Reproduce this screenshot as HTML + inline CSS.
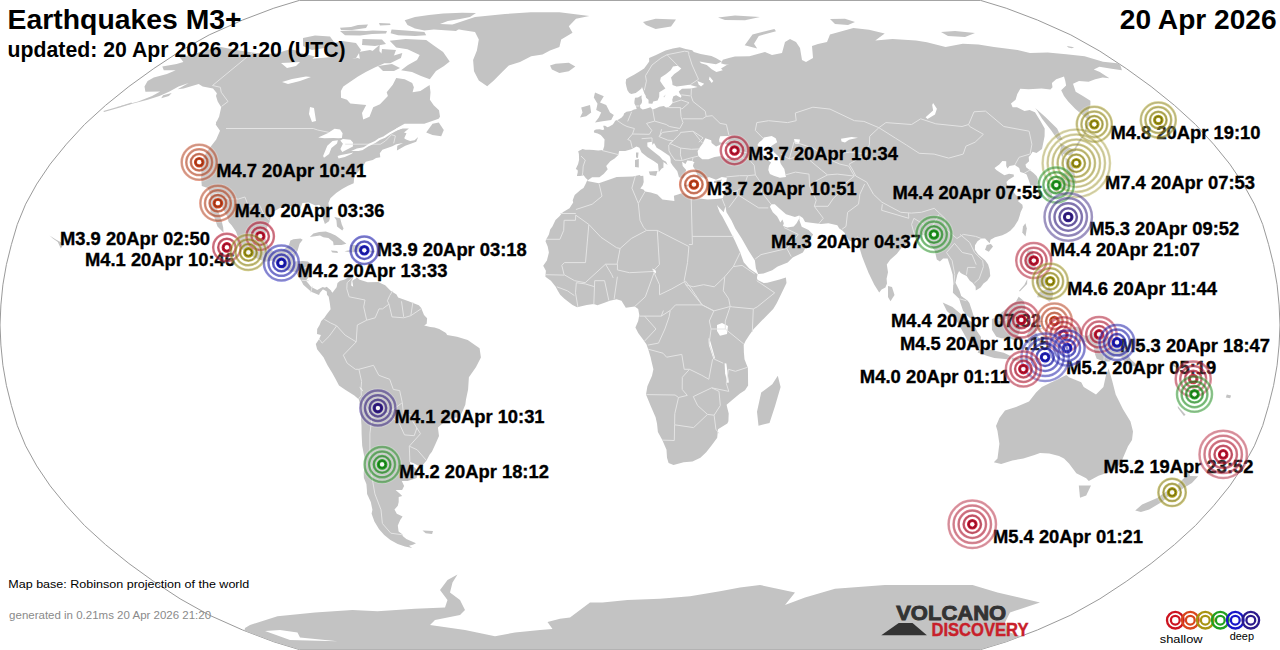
<!DOCTYPE html>
<html><head><meta charset="utf-8"><style>
html,body{margin:0;padding:0;background:#fff;width:1280px;height:650px;overflow:hidden}
svg{display:block}
.t{font-family:"Liberation Sans",sans-serif;font-weight:bold;fill:#000}
</style></head><body>
<svg width="1280" height="650" viewBox="0 0 1280 650">
<path d="M980.6,649.6 1006.2,641.8 1037.6,629.9 1070.8,615.1 1099.9,598.8 1126.2,581.5 1151.1,563.5 1174.4,544.7 1195.5,525.5 1213.6,505.8 1229.8,485.9 1243.3,465.9 1254.4,445.8 1262.7,425.6 1268.6,405.5 1273.6,385.4 1277.1,365.3 1279.1,345.1 1280.0,325.0 1279.1,304.9 1277.1,284.7 1273.6,264.6 1268.6,244.5 1262.7,224.4 1254.4,204.2 1243.3,184.1 1229.8,164.1 1213.6,144.2 1195.5,124.5 1174.4,105.3 1151.1,86.5 1126.2,68.5 1099.9,51.2 1070.8,34.9 1037.6,20.1 1006.2,8.2 980.6,0.4 299.4,0.4 273.8,8.2 242.4,20.1 209.2,34.9 180.1,51.2 153.8,68.5 128.9,86.5 105.6,105.3 84.5,124.5 66.4,144.2 50.2,164.1 36.7,184.1 25.6,204.2 17.3,224.4 11.4,244.5 6.4,264.6 2.9,284.7 0.9,304.9 0.0,325.0 0.9,345.1 2.9,365.3 6.4,385.4 11.4,405.5 17.3,425.6 25.6,445.8 36.7,465.9 50.2,485.9 66.4,505.8 84.5,525.5 105.6,544.7 128.9,563.5 153.8,581.5 180.1,598.8 209.2,615.1 242.4,629.9 273.8,641.8 299.4,649.6Z" fill="none" stroke="#9a9a9a" stroke-width="1"/>
<defs><clipPath id="oc"><path d="M980.6,649.6 1006.2,641.8 1037.6,629.9 1070.8,615.1 1099.9,598.8 1126.2,581.5 1151.1,563.5 1174.4,544.7 1195.5,525.5 1213.6,505.8 1229.8,485.9 1243.3,465.9 1254.4,445.8 1262.7,425.6 1268.6,405.5 1273.6,385.4 1277.1,365.3 1279.1,345.1 1280.0,325.0 1279.1,304.9 1277.1,284.7 1273.6,264.6 1268.6,244.5 1262.7,224.4 1254.4,204.2 1243.3,184.1 1229.8,164.1 1213.6,144.2 1195.5,124.5 1174.4,105.3 1151.1,86.5 1126.2,68.5 1099.9,51.2 1070.8,34.9 1037.6,20.1 1006.2,8.2 980.6,0.4 299.4,0.4 273.8,8.2 242.4,20.1 209.2,34.9 180.1,51.2 153.8,68.5 128.9,86.5 105.6,105.3 84.5,124.5 66.4,144.2 50.2,164.1 36.7,184.1 25.6,204.2 17.3,224.4 11.4,244.5 6.4,264.6 2.9,284.7 0.9,304.9 0.0,325.0 0.9,345.1 2.9,365.3 6.4,385.4 11.4,405.5 17.3,425.6 25.6,445.8 36.7,465.9 50.2,485.9 66.4,505.8 84.5,525.5 105.6,544.7 128.9,563.5 153.8,581.5 180.1,598.8 209.2,615.1 242.4,629.9 273.8,641.8 299.4,649.6Z"/></clipPath></defs>
<g fill="#c3c3c3" stroke="none" clip-path="url(#oc)"><path d="M323.0,289.2 320.0,292.8 319.0,295.0 311.2,291.7 303.3,284.8 301.3,280.7 297.6,275.5 295.8,271.9 290.9,271.5 282.3,268.6 277.4,264.6 272.7,260.6 269.9,261.0 265.5,261.8 254.2,257.4 245.9,252.5 240.3,248.1 236.2,242.9 238.5,238.5 235.9,231.6 231.6,225.2 228.6,222.0 227.1,216.3 225.0,212.7 221.6,206.3 220.0,200.2 216.8,197.0 215.0,204.2 218.6,212.3 221.5,220.3 223.2,227.6 223.6,232.8 217.5,226.4 214.3,217.5 210.4,213.1 210.5,204.7 210.5,196.6 210.0,193.4 207.7,188.1 201.8,186.1 201.1,177.7 201.5,172.9 200.6,162.5 206.6,152.1 216.2,139.5 220.0,130.8 215.7,124.5 216.7,121.4 219.1,116.8 221.2,107.2 217.7,101.5 216.0,95.9 216.9,93.3 213.0,88.4 202.7,86.5 198.7,84.0 183.6,88.4 177.6,89.2 188.7,82.9 178.6,86.5 169.0,91.8 159.4,95.9 147.7,99.7 133.1,103.4 122.6,106.0 115.0,107.6 127.7,104.2 138.2,101.5 152.1,95.9 160.2,91.4 145.4,91.8 144.5,86.5 147.6,81.1 153.8,77.5 166.9,73.9 175.7,70.3 163.8,70.3 162.3,66.4 176.6,64.0 183.4,61.9 179.5,57.1 191.6,54.7 208.4,49.6 220.8,47.0 237.8,50.2 252.4,52.6 266.1,54.0 277.7,52.9 290.1,49.2 296.7,50.5 300.8,52.9 315.1,56.4 312.3,58.8 332.6,57.1 343.0,59.8 357.7,58.1 362.7,59.8 370.2,52.9 379.7,44.7 379.4,51.2 382.9,54.7 390.5,56.4 402.3,52.9 400.9,58.1 390.2,63.3 384.4,63.3 374.8,67.4 365.8,72.1 358.0,76.4 343.3,86.5 340.9,91.0 341.0,97.8 347.0,99.7 350.3,103.4 366.2,104.9 362.0,113.0 363.2,119.5 369.5,116.8 373.2,107.2 380.0,104.2 387.9,95.9 386.7,92.2 392.8,84.7 396.2,77.9 404.7,79.3 412.2,82.9 413.9,87.3 412.6,92.2 420.4,91.0 429.6,85.1 430.5,92.2 429.9,99.7 433.7,105.3 439.0,110.3 440.0,116.8 438.6,118.8 424.3,123.8 404.6,123.8 397.4,127.7 391.5,132.4 385.8,136.3 384.2,137.1 393.4,131.6 402.4,128.5 408.9,128.5 404.0,132.4 406.5,133.2 404.2,138.3 406.0,139.5 410.1,141.0 414.6,140.2 418.2,137.1 416.2,141.8 405.3,145.8 396.9,150.5 397.3,145.8 403.1,143.0 396.2,144.2 392.3,146.2 382.4,149.7 379.8,153.3 380.3,157.3 376.1,158.1 372.8,160.1 365.7,161.7 363.1,166.1 360.4,168.5 359.0,170.9 354.3,176.1 353.7,183.3 348.0,185.7 342.1,189.0 336.2,193.0 330.4,198.2 328.4,203.0 329.5,210.3 329.9,218.3 329.0,221.2 324.9,224.0 323.6,220.3 321.4,213.1 321.8,207.9 319.1,204.7 315.5,205.5 308.7,202.6 302.4,203.0 300.5,208.3 291.4,206.3 285.5,205.1 281.6,207.1 271.2,213.1 270.0,220.8 266.7,228.4 265.1,235.6 266.0,240.5 269.0,247.7 274.3,252.1 283.0,250.1 288.9,245.3 290.4,240.5 293.4,239.3 300.5,238.5 302.7,239.7 299.6,243.7 297.6,250.5 295.7,254.6 293.7,261.4 302.6,261.0 307.8,261.4 311.9,264.6 310.2,272.7 309.1,276.7 305.9,280.6 308.8,283.9 311.2,287.1 317.2,290.0 322.7,287.1 327.3,288.5 331.8,290.8Z"/><path d="M323.0,288.8 326.7,286.8 330.4,290.0 332.4,292.8 336.6,287.2 337.5,283.1 340.2,280.7 344.9,279.5 351.6,275.1 352.7,278.7 351.5,281.1 351.2,285.6 353.2,286.8 352.2,280.7 356.3,278.3 356.7,277.1 359.0,279.5 367.7,282.3 378.3,281.9 382.4,283.9 385.2,285.2 390.3,290.4 396.5,294.4 398.1,297.6 408.6,301.3 418.8,305.3 421.2,308.1 424.0,314.9 427.1,318.2 426.7,323.8 424.2,325.4 430.3,327.0 434.5,327.4 439.2,329.0 446.0,333.1 447.1,335.1 457.0,336.7 467.7,339.9 474.9,345.1 479.6,348.3 480.9,357.6 475.9,367.3 468.9,377.3 468.1,389.4 466.0,399.5 465.3,404.7 462.4,411.5 459.4,417.6 455.3,417.6 449.2,419.6 444.9,421.6 437.9,427.6 439.0,436.1 435.6,443.7 431.9,451.8 429.7,454.6 426.5,460.6 422.4,465.5 418.0,465.5 413.2,463.1 409.9,461.9 410.4,464.3 415.3,467.9 417.4,471.1 416.8,477.9 407.7,481.1 401.8,481.1 404.1,485.9 402.1,489.9 395.6,489.9 400.2,493.9 402.2,495.9 398.7,497.1 398.7,501.9 397.8,505.8 394.5,509.4 396.8,513.7 402.6,516.4 400.2,520.0 397.8,525.5 398.6,531.6 402.3,534.3 402.7,535.9 406.3,538.9 416.0,543.2 412.9,544.7 409.0,545.8 412.3,548.1 405.0,546.6 397.7,544.0 390.4,540.1 384.2,535.1 379.1,529.3 374.4,521.5 371.6,513.7 372.4,509.8 370.8,501.9 367.1,493.9 366.9,489.9 366.4,483.9 363.9,477.9 363.7,473.1 364.5,465.9 364.5,457.8 362.2,445.8 361.6,433.7 361.5,425.6 361.1,420.0 360.8,409.5 358.9,399.5 354.3,395.4 344.8,389.4 339.0,385.4 335.7,379.3 332.4,373.3 327.5,365.3 323.5,357.2 317.1,349.2 315.8,343.9 319.2,339.1 320.9,335.1 317.0,333.9 317.2,329.0 319.6,325.0 321.2,321.0 324.4,317.8 326.6,314.5 330.6,309.3 329.8,302.9 328.7,296.8 327.0,294.8 326.8,291.6 323.0,289.2Z"/><path d="M586.9,180.9 585.7,183.7 583.5,188.1 580.7,189.8 574.7,195.0 572.7,200.2 573.2,202.6 569.5,208.3 562.8,212.3 559.5,216.3 555.5,219.9 552.4,226.4 550.2,229.6 548.9,234.4 546.3,239.3 545.5,241.3 547.7,246.5 548.9,252.5 546.9,260.6 543.2,265.8 545.9,270.7 545.4,276.7 550.9,280.7 555.7,286.8 557.8,290.8 560.2,294.8 564.4,298.8 572.5,304.9 577.1,307.3 586.7,304.9 593.8,304.1 597.4,305.3 603.8,302.9 609.8,300.8 616.6,299.2 621.5,300.8 625.8,307.7 631.1,306.9 634.7,306.5 638.2,308.9 639.3,314.9 638.2,321.0 635.4,327.4 638.2,333.1 643.6,340.3 646.4,344.3 648.2,349.2 650.6,357.2 651.3,360.4 653.4,369.3 652.0,375.7 647.4,386.2 646.0,394.6 650.5,405.5 655.6,417.2 657.0,423.6 657.9,432.1 662.3,440.1 666.5,449.8 667.0,457.8 668.6,463.1 673.5,465.1 683.7,462.3 692.5,461.4 700.4,457.8 706.2,452.2 711.7,445.3 717.2,437.7 718.0,429.2 727.3,423.6 728.4,421.2 728.7,413.6 727.2,407.5 726.6,404.7 732.8,399.5 740.0,393.4 745.0,390.2 748.1,385.4 748.0,375.3 747.9,368.1 744.5,359.2 743.9,352.4 743.7,345.1 745.5,341.1 749.4,335.1 753.7,329.0 765.4,316.9 773.2,308.9 776.7,303.3 781.8,292.8 786.5,283.1 785.9,277.5 779.6,279.5 767.3,282.7 763.8,283.1 757.7,279.9 756.9,278.3 757.5,274.3 758.2,273.9 763.5,273.5 772.2,270.3 777.7,266.6 787.7,262.6 792.7,257.4 794.7,256.6 802.9,252.5 807.0,245.3 809.4,240.5 813.1,234.4 808.6,230.0 801.7,226.8 799.4,220.3 799.6,218.7 799.2,215.5 802.9,217.9 805.1,222.0 814.9,223.2 820.9,224.0 828.4,223.2 837.3,225.2 839.3,228.4 842.3,230.4 845.0,233.2 845.1,234.8 849.1,240.5 852.7,241.7 857.7,238.5 857.7,235.6 858.8,239.7 859.7,248.5 862.1,256.6 864.4,262.6 868.6,273.1 874.3,284.7 879.2,292.4 881.6,289.6 885.4,287.6 887.0,283.5 886.6,278.7 888.0,272.3 886.8,264.6 890.2,259.8 896.9,253.8 901.9,247.3 907.7,243.3 908.1,238.5 913.2,237.3 916.6,236.4 919.8,234.4 924.4,235.2 925.6,238.9 929.5,244.1 934.7,250.5 936.8,259.4 939.9,261.4 943.1,258.6 947.6,258.6 950.8,268.2 952.7,274.7 953.2,284.7 952.9,292.8 959.2,298.8 960.5,303.3 963.2,310.9 967.6,316.1 972.3,319.8 974.8,319.4 973.3,314.9 971.7,309.7 969.4,302.9 967.5,300.4 961.2,296.0 959.5,290.8 955.5,282.7 957.3,274.7 959.1,271.1 960.7,273.1 962.9,274.3 966.6,275.9 969.8,280.7 972.5,282.7 975.6,286.8 975.8,290.4 980.6,287.6 983.5,283.5 987.2,280.7 990.3,275.9 989.6,269.5 988.1,264.6 985.1,260.2 978.3,254.6 974.9,249.7 975.0,245.3 977.5,241.3 981.3,238.5 985.1,238.5 989.7,243.3 990.5,239.7 995.0,237.3 1002.3,235.2 1006.5,233.2 1010.3,230.8 1014.3,226.4 1018.2,220.3 1019.9,215.1 1020.6,212.3 1022.8,207.5 1022.4,204.7 1017.8,201.0 1020.0,199.4 1018.1,197.0 1015.1,194.2 1011.1,188.1 1007.1,185.3 1006.5,182.1 1008.6,179.7 1013.9,176.5 1013.7,174.5 1009.0,173.7 1004.4,175.3 1000.8,172.9 996.3,170.1 994.5,168.1 999.3,164.5 1002.4,160.9 1006.2,161.3 1006.2,166.1 1007.5,168.5 1009.5,166.1 1014.9,164.9 1019.2,168.1 1020.3,172.1 1024.4,173.3 1026.6,174.5 1028.7,180.1 1030.4,184.9 1034.6,186.1 1038.7,183.7 1039.3,182.1 1036.6,176.1 1033.5,172.9 1026.1,167.3 1025.5,164.5 1029.1,161.3 1028.7,156.9 1030.5,154.9 1032.6,151.7 1036.5,152.9 1042.0,148.9 1043.4,142.2 1044.6,136.3 1044.7,128.5 1040.3,120.7 1035.0,112.2 1029.6,109.9 1024.5,111.1 1017.0,107.2 1012.6,107.2 1011.0,103.4 1015.6,99.7 1017.3,94.0 1020.3,88.8 1028.6,89.2 1041.6,88.4 1050.4,89.5 1052.5,87.3 1051.9,82.9 1056.2,79.3 1064.0,76.4 1065.3,81.1 1066.1,85.5 1061.2,90.3 1064.0,95.9 1068.2,101.5 1075.4,109.1 1089.3,120.7 1090.4,116.8 1088.4,113.0 1088.8,109.1 1090.4,105.3 1090.4,100.8 1082.9,95.9 1075.7,91.8 1073.0,83.7 1079.0,81.1 1088.6,81.8 1095.2,79.3 1102.6,77.5 1109.4,78.2 1099.8,72.1 1093.8,69.6 1099.4,66.7 1110.0,68.5 1121.9,70.3 1120.9,66.7 1120.1,65.0 1119.7,63.6 1103.0,61.7 1084.6,56.2 1066.2,54.3 1047.7,52.5 1030.0,53.1 1017.5,50.0 994.0,46.9 978.4,44.5 962.8,43.8 945.6,46.9 926.9,42.2 916.0,40.6 892.5,39.0 875.3,40.6 884.7,33.6 869.0,29.7 853.4,28.1 830.0,34.4 827.0,42.0 818.0,44.0 812.0,46.0 813.0,58.0 806.0,62.0 802.0,60.0 800.0,48.0 796.0,42.0 790.0,39.0 785.0,42.0 782.0,53.0 772.0,55.0 765.0,52.0 749.4,56.2 734.9,56.4 728.9,58.1 722.8,59.8 721.0,63.3 724.0,64.3 729.5,65.0 730.6,62.3 726.8,65.0 721.0,68.5 722.8,70.3 716.4,72.1 711.7,69.2 706.8,65.0 701.1,63.3 699.5,61.6 705.0,62.6 716.0,64.3 721.9,61.6 715.8,58.1 711.4,56.0 700.6,54.0 693.8,51.9 692.2,50.2 685.6,48.9 679.8,47.3 672.9,48.6 665.5,50.5 661.8,52.2 655.5,55.3 649.1,58.1 649.2,61.6 646.7,65.0 644.1,68.5 638.6,72.1 634.5,74.6 628.9,77.5 626.1,79.3 625.7,82.9 626.4,86.5 627.4,90.3 629.3,92.9 631.3,94.0 635.7,92.9 639.4,90.3 641.4,88.4 642.0,86.9 643.2,90.3 644.6,94.0 645.5,95.2 646.1,97.8 648.5,99.7 648.6,103.4 652.4,103.8 653.2,101.5 657.6,100.4 659.2,96.7 659.3,92.2 662.6,90.3 665.4,88.4 662.6,84.7 660.1,81.1 660.8,77.5 666.1,73.9 670.7,70.3 673.0,66.4 677.8,65.7 681.3,68.5 678.6,71.0 674.3,73.9 671.0,77.5 672.2,81.8 672.5,85.1 676.6,86.5 682.5,85.8 689.4,84.7 697.7,86.9 691.3,88.4 682.0,88.8 678.8,91.4 679.5,93.3 681.5,95.9 680.8,97.8 676.2,95.2 673.4,96.3 672.2,99.7 672.8,102.7 670.6,105.3 668.3,107.2 666.0,107.6 663.8,106.0 659.4,106.8 655.5,108.4 652.6,109.5 650.4,107.2 646.0,108.7 642.7,109.5 640.3,108.0 640.0,105.3 641.8,103.0 642.1,100.8 641.5,97.8 641.7,95.2 638.0,97.4 635.0,97.8 634.4,101.5 634.4,103.4 635.8,106.0 636.7,109.1 634.0,109.5 631.0,111.1 626.5,111.8 624.0,113.4 623.6,115.3 621.7,117.6 618.6,119.5 615.2,120.7 614.2,122.6 612.8,124.5 609.4,126.5 607.5,127.3 605.1,125.7 603.2,125.7 604.2,129.6 602.6,130.0 599.6,129.2 595.8,129.6 593.9,130.8 594.0,132.4 597.7,133.6 600.7,135.1 601.9,136.3 604.6,139.5 604.4,141.8 604.2,146.2 603.0,150.1 598.2,150.5 593.4,150.1 589.6,149.7 585.4,149.7 582.6,148.9 578.2,151.3 578.9,154.1 579.1,159.7 578.1,164.1 575.8,168.9 577.6,170.1 577.8,172.1 576.9,176.1 580.2,176.1 583.6,175.3 585.7,178.1 587.9,180.1Z"/><path d="M1036.3,392.2 1041.8,387.0 1056.6,379.7 1066.4,375.0 1069.0,377.2 1081.2,382.2 1083.7,387.0 1096.0,394.5 1103.4,387.0 1105.8,376.0 1108.6,368.5 1112.0,380.0 1115.7,394.5 1123.0,409.2 1130.5,421.5 1133.0,431.4 1132.0,440.0 1128.0,446.2 1120.6,463.4 1113.2,470.8 1098.5,475.7 1088.8,481.0 1086.2,478.2 1076.3,473.2 1069.0,463.4 1064.0,458.5 1059.0,456.0 1049.2,453.5 1040.0,453.1 1034.5,455.0 1023.4,458.6 1012.3,460.5 1001.2,464.1 993.8,462.3 997.5,458.6 999.4,443.8 997.5,431.0 996.0,426.0 999.4,418.0 1005.0,410.6 1016.0,407.0 1029.0,401.4Z"/><path d="M245.0,628.0 250.0,625.0 277.5,616.2 315.0,612.5 352.5,610.0 377.5,611.2 415.0,608.8 445.0,607.5 447.5,600.0 440.0,590.0 447.5,580.0 457.5,574.5 452.5,582.5 450.0,592.5 460.0,600.0 465.0,610.0 460.0,615.0 435.0,620.0 430.0,625.0 465.0,630.0 495.0,636.2 515.0,632.5 540.0,630.0 552.5,629.0 547.5,622.0 560.0,618.8 570.0,617.5 580.0,610.0 590.0,602.5 602.5,602.5 627.5,600.0 660.0,598.8 690.0,596.2 705.0,593.8 720.0,591.2 740.0,587.5 760.0,585.0 795.0,592.5 785.0,605.0 805.0,597.5 835.0,588.8 885.0,585.0 922.5,585.0 972.5,585.0 997.5,592.5 1040.0,602.5 1010.0,612.5 1005.0,622.5 1010.0,632.5 1060.0,650.0 240.0,650.0Z"/></g>
<g fill="#fff" stroke="none"><path d="M281.0,63.0 292.0,62.5 300.0,62.0 296.0,66.0 287.0,68.0Z"/><path d="M282.0,82.0 292.0,79.0 306.0,76.5 311.0,77.0 300.0,81.0 288.0,84.0Z"/><path d="M588.6,179.7 592.1,177.3 599.4,177.3 603.9,173.7 607.7,169.3 606.2,166.1 610.3,161.3 614.6,158.5 618.3,154.9 619.1,150.9 625.2,150.9 631.3,149.3 636.5,146.6 639.4,147.7 641.6,152.5 647.5,157.3 653.7,160.9 658.0,164.1 658.8,172.1 661.7,168.5 663.4,167.7 663.5,162.1 667.6,164.9 666.1,161.7 662.5,159.7 659.8,156.5 651.2,149.7 647.4,146.6 647.3,142.6 652.1,141.8 652.4,145.0 654.0,143.0 656.7,147.7 660.6,150.1 666.2,153.7 669.5,156.1 670.6,158.9 670.7,162.5 672.8,165.7 677.3,171.3 678.9,176.9 681.6,178.5 683.6,178.1 685.3,172.5 686.2,170.1 682.7,166.1 682.1,161.7 685.5,164.1 687.3,160.5 692.2,160.9 694.6,162.5 693.7,163.3 692.9,166.1 695.5,170.5 697.8,176.1 700.8,176.9 703.6,177.7 705.3,179.3 708.8,176.9 716.0,179.7 721.8,176.9 726.9,177.7 726.3,182.1 725.8,188.6 724.5,193.0 722.8,198.2 715.8,199.0 707.6,199.4 697.7,198.2 687.4,195.8 682.6,193.0 673.9,195.8 674.4,201.0 662.4,199.4 657.3,194.6 650.8,192.6 645.1,191.4 643.4,189.4 640.3,188.6 642.7,185.3 643.7,182.1 643.3,175.7 640.7,176.1 639.7,174.9 632.7,176.5 616.7,176.9 604.6,181.3 598.8,183.3 587.2,180.9Z"/><path d="M702.2,159.3 698.3,156.1 697.6,151.3 699.9,147.3 702.7,143.4 705.3,138.3 711.2,140.2 711.6,143.0 716.1,146.6 721.3,144.2 724.3,143.0 719.4,142.2 719.1,139.5 720.2,136.3 728.0,135.9 731.8,135.5 728.4,138.3 728.7,140.2 725.0,143.4 728.7,145.4 735.4,149.7 741.8,154.1 742.6,157.7 736.8,160.1 726.2,158.5 725.6,158.9 721.0,156.1 714.6,156.9 708.4,159.3 705.1,159.3Z"/><path d="M761.9,140.2 763.9,137.5 771.7,135.9 775.7,138.3 777.2,142.2 771.0,146.2 772.6,149.3 773.7,152.1 778.1,156.1 779.7,158.1 780.2,162.1 780.9,164.1 784.3,168.9 785.6,174.9 786.0,176.9 779.8,177.7 773.8,175.7 769.9,174.1 768.3,170.1 769.0,165.7 771.1,162.5 768.9,160.9 765.2,156.9 760.8,152.1 759.5,148.1 757.4,145.0 759.1,142.2Z"/><path d="M716.8,204.7 719.6,212.3 722.2,216.3 728.7,228.4 734.8,240.5 740.2,252.5 743.7,262.2 749.2,268.6 755.4,272.7 757.5,274.3 758.2,273.9 755.9,268.6 754.9,260.6 748.5,250.5 741.7,238.5 735.3,228.4 731.4,220.3 726.5,212.3 725.4,206.3 723.7,212.3 717.9,206.3Z"/><path d="M771.4,204.2 769.9,206.7 772.8,212.3 777.0,216.3 778.6,219.1 780.3,222.4 782.4,219.5 783.8,223.2 783.0,226.0 787.3,227.6 793.7,226.4 796.6,223.2 798.6,219.5 799.6,218.7 799.2,215.5 794.9,217.1 786.0,214.3 779.7,208.7 774.8,204.2Z"/><path d="M717.0,325.0 722.0,323.0 728.0,326.0 727.0,334.0 720.0,335.7 717.0,331.0Z"/><path d="M280.0,630.0 297.5,632.5 300.0,637.5 337.5,641.2 290.0,640.0 265.0,631.0Z"/><path d="M310.0,107.0 314.0,108.0 316.0,121.0 312.0,122.0 309.0,114.0Z"/><path d="M933.1,103.1 936.9,108.8 935.0,114.4 927.5,119.0 925.6,117.2 933.1,110.6 932.2,105.0Z"/><path d="M841.0,138.7 851.5,136.9 858.0,137.8 849.0,139.7 845.0,142.5 841.5,141.6Z"/><path d="M794.0,139.0 800.0,139.5 799.0,144.0 795.0,143.5Z"/><path d="M697.4,81.1 704.2,83.7 701.0,86.5 698.7,84.4Z"/><path d="M709.6,76.4 713.3,81.1 711.7,82.9 709.0,79.3Z"/><path d="M652.3,268.6 655.9,270.7 655.9,273.5 653.4,271.9Z"/><path d="M708.6,338.3 709.6,338.7 714.8,357.2 713.7,359.6 708.9,345.1Z"/><path d="M724.6,363.2 726.4,363.6 728.8,382.6 727.4,383.0 725.1,373.3Z"/><path d="M359.2,386.6 361.6,388.6 363.3,391.4 361.0,389.8Z"/><path d="M318.2,137.5 327.6,133.2 334.5,128.8 340.0,129.6 342.6,133.2 341.9,137.9 338.6,138.3 333.4,137.9 324.4,138.3Z"/><path d="M337.9,140.2 332.5,141.0 327.3,145.8 323.1,156.1 324.0,157.7 329.1,154.1 331.4,148.1 337.0,143.4Z"/><path d="M342.9,139.1 350.5,139.8 353.0,142.6 352.9,146.6 342.2,152.1 340.4,148.9 342.9,143.8 340.3,140.6Z"/><path d="M337.6,156.1 338.6,158.5 344.8,156.9 351.4,154.1 353.3,152.5 347.7,153.7 341.1,154.9Z"/><path d="M351.1,150.9 358.5,150.9 363.0,150.1 363.8,147.3 356.9,148.5Z"/></g>
<g fill="#c3c3c3" stroke="none" clip-path="url(#oc)"><path d="M452.5,24.4 475.0,16.9 505.0,14.0 531.0,12.2 559.4,12.2 589.4,15.9 576.0,18.8 568.8,26.2 572.5,32.8 561.2,39.4 559.4,46.9 550.0,50.6 542.5,54.4 531.2,56.2 520.0,61.9 508.8,65.6 501.2,73.1 493.8,80.6 487.2,86.2 478.8,80.6 474.0,71.2 473.1,60.0 476.9,50.6 478.8,39.4 475.0,31.9 461.9,30.0 452.5,28.1Z"/><path d="M550.0,65.6 555.6,63.8 568.8,62.8 575.3,66.6 568.8,71.2 559.4,73.1 551.9,69.4Z"/><path d="M426.2,132.5 432.5,123.8 438.8,122.5 443.8,130.0 441.2,136.2 432.5,135.0Z"/><path d="M595.0,92.5 603.8,96.2 600.0,102.5 606.2,105.0 610.0,112.5 613.8,115.0 611.2,120.0 602.5,121.2 595.0,122.5 598.8,117.5 601.2,112.5 596.2,110.0 597.5,103.8 593.8,97.5Z"/><path d="M581.2,107.5 590.0,105.0 591.2,112.5 586.2,116.2 580.0,117.5 582.5,112.5Z"/><path d="M643.0,21.9 655.6,18.8 676.0,19.5 671.0,26.6 655.6,28.9 646.0,25.0Z"/><path d="M744.7,45.3 752.5,34.4 774.4,28.9 776.0,31.2 758.8,36.0 754.0,43.8 757.2,48.4Z"/><path d="M718.0,17.5 735.0,15.6 760.0,17.0 745.0,20.3 725.0,20.0Z"/><path d="M830.0,19.0 845.0,18.8 855.0,22.0 848.0,25.0 835.0,24.0Z"/><path d="M941.0,32.0 955.0,31.0 975.0,33.0 965.0,37.0 948.0,36.0Z"/><path d="M888.0,286.0 892.0,287.0 894.5,295.0 890.5,301.3 888.0,297.0Z"/><path d="M777.8,375.8 780.6,387.0 775.0,406.3 769.5,423.0 758.5,425.7 757.0,411.8 761.2,392.5 772.3,384.2Z"/><path d="M648.8,171.5 657.5,171.0 656.0,176.0 650.0,175.0Z"/><path d="M635.0,160.0 638.8,159.0 638.8,167.5 635.0,167.0Z"/><path d="M636.0,152.5 638.5,152.5 638.0,158.0 636.0,157.5Z"/><path d="M684.0,185.0 695.0,184.0 694.0,186.5 685.0,186.5Z"/><path d="M714.0,181.0 722.0,179.5 720.0,183.0 714.0,183.0Z"/><path d="M1078.8,485.5 1091.0,485.5 1086.2,495.4 1080.0,497.8Z"/><path d="M1186.5,463.5 1188.7,471.9 1190.2,475.9 1198.2,476.3 1191.9,483.1 1177.2,491.9 1179.2,487.9 1178.0,483.9 1185.1,477.1Z"/><path d="M1171.7,487.9 1175.4,489.9 1168.7,495.9 1162.6,501.5 1149.2,509.4 1140.9,512.1 1135.2,510.5 1142.1,504.6 1157.2,497.9 1164.0,493.1Z"/><path d="M1065.4,158.1 1067.8,158.9 1071.5,162.9 1074.3,170.9 1075.1,178.1 1076.5,183.7 1070.3,185.7 1064.0,190.2 1055.0,186.9 1047.1,188.1 1049.0,185.3 1052.4,182.1 1058.9,181.7 1061.4,176.5 1061.9,174.1 1067.1,172.5 1066.0,164.9Z"/><path d="M1046.9,188.6 1051.9,192.2 1051.9,198.6 1049.0,199.8 1045.1,193.8 1043.1,190.2Z"/><path d="M1055.0,186.9 1059.5,188.1 1058.9,191.0 1055.3,193.0 1052.7,189.0Z"/><path d="M1059.0,142.2 1067.1,147.0 1076.6,150.5 1073.0,152.5 1071.7,156.1 1063.3,154.1 1062.5,158.1 1059.8,151.3 1061.1,146.6Z"/><path d="M1035.2,108.0 1045.1,116.8 1057.1,128.5 1062.7,140.2 1057.4,139.5 1051.3,130.4 1042.1,118.8 1037.4,111.1Z"/><path d="M1025.4,223.2 1026.8,228.4 1025.5,236.4 1022.3,232.4 1023.0,226.4Z"/><path d="M990.9,244.1 993.0,246.5 988.8,251.7 985.0,249.7 986.8,244.9Z"/><path d="M1027.5,250.5 1032.8,250.5 1034.9,259.8 1035.6,267.8 1042.5,269.5 1042.3,274.3 1037.7,270.3 1029.8,269.1 1027.3,265.4 1026.0,259.0 1027.1,254.6Z"/><path d="M1044.5,274.7 1048.2,279.9 1047.7,284.7 1042.9,286.4 1039.4,286.8 1035.9,283.1 1036.0,277.5 1040.0,275.5Z"/><path d="M1048.8,285.6 1053.2,292.8 1052.2,299.6 1049.2,301.7 1044.3,297.6 1037.2,297.2 1038.3,292.8 1043.1,290.4 1047.3,288.8Z"/><path d="M1027.3,279.1 1027.1,283.9 1019.8,291.6 1019.1,290.8 1024.4,284.7Z"/><path d="M1018.7,296.8 1023.6,300.8 1025.7,307.7 1023.7,314.9 1027.4,321.0 1020.3,329.0 1018.4,335.1 1016.5,341.5 1011.2,338.7 1001.3,338.3 996.3,336.7 991.9,329.8 991.9,319.0 997.1,316.9 999.9,313.7 1009.3,306.5 1016.1,301.3Z"/><path d="M942.7,302.5 952.5,306.9 960.5,313.7 966.3,319.0 973.5,323.0 976.9,331.0 981.0,337.1 979.9,348.7 975.8,347.1 967.8,340.7 961.3,329.0 955.6,319.0 946.9,310.9Z"/><path d="M979.9,349.2 988.8,349.6 1003.8,352.8 1010.7,356.0 1010.2,359.6 994.3,358.0 987.4,356.0 977.6,352.4Z"/><path d="M1011.7,357.6 1019.1,358.4 1028.0,358.0 1040.4,358.0 1040.3,360.0 1027.8,360.8 1019.0,360.8 1011.9,360.4Z"/><path d="M1055.6,358.4 1052.7,359.6 1045.0,362.8 1041.6,366.5 1043.5,364.4 1047.9,362.0Z"/><path d="M1048.7,319.0 1045.2,321.4 1034.6,323.0 1031.8,322.6 1030.3,328.2 1026.9,335.1 1028.2,339.1 1028.6,347.5 1031.7,343.1 1032.9,336.3 1035.4,335.5 1039.2,341.9 1039.7,346.7 1042.0,343.1 1038.9,337.9 1035.6,331.4 1042.7,328.6 1034.6,327.4 1032.5,323.8 1038.1,321.0 1045.2,321.8Z"/><path d="M1059.3,315.3 1062.3,321.8 1059.2,325.0 1057.6,320.2Z"/><path d="M1059.2,336.3 1069.2,337.1 1067.7,339.5 1059.9,338.7Z"/><path d="M1070.1,328.2 1076.9,326.6 1081.1,329.0 1082.4,334.7 1086.9,336.3 1094.6,331.4 1104.4,335.5 1114.6,338.3 1122.1,345.9 1128.2,349.2 1128.5,355.2 1130.7,359.2 1138.2,366.1 1134.6,366.5 1125.4,363.2 1121.2,357.2 1115.0,356.0 1109.6,361.6 1103.9,361.6 1096.7,358.8 1095.2,354.8 1093.6,347.1 1086.0,342.3 1078.6,340.7 1074.1,336.3 1079.2,334.7 1074.3,332.6 1070.8,331.0Z"/><path d="M1142.5,341.9 1144.2,345.1 1136.7,350.0 1131.6,347.5 1137.0,346.3Z"/><path d="M1169.5,361.2 1174.5,364.4 1176.9,367.7 1170.9,365.3Z"/><path d="M1177.7,405.9 1185.6,414.8 1183.9,416.0 1177.9,407.9Z"/><path d="M1226.8,394.6 1231.1,395.4 1230.1,398.3 1225.8,397.5Z"/><path d="M1075.4,150.1 1079.9,142.2 1085.3,134.3 1089.8,122.6 1087.8,121.4 1083.8,133.6 1078.1,141.8 1074.1,148.9Z"/><path d="M131.5,102.5 119.0,106.4 103.4,111.0 104.0,112.0 120.0,107.5 132.0,103.8Z"/><path d="M1066.8,46.0 1074.1,47.3 1071.9,48.3 1068.3,47.6Z"/><path d="M319.2,232.0 325.8,231.6 330.8,233.2 335.7,235.6 341.7,240.1 346.4,243.7 341.4,244.9 336.1,244.9 333.6,245.3 333.1,241.7 328.4,238.1 323.3,237.3 320.0,235.6 309.8,236.9 313.4,233.6Z"/><path d="M350.8,244.9 360.5,245.3 365.8,248.5 364.7,251.7 356.3,251.7 351.0,252.5 344.5,251.3 350.2,250.1Z"/><path d="M369.8,250.5 375.3,250.9 374.4,252.5 369.5,252.5Z"/><path d="M330.9,250.5 337.2,250.9 338.0,253.0 332.4,252.5Z"/><path d="M334.3,217.1 340.2,218.3 341.8,224.4 343.6,228.4 342.3,230.4 337.0,226.4 336.4,220.3Z"/><path d="M303.0,38.0 315.0,35.5 330.0,36.5 334.0,42.0 325.0,48.0 312.0,50.0 303.0,46.0Z"/><path d="M328.0,45.0 342.0,41.0 356.0,43.0 361.0,50.0 356.0,58.0 345.0,61.0 333.0,60.0 326.0,53.0Z"/><path d="M340.0,27.7 351.0,27.0 358.0,25.0 368.0,24.5 366.0,28.0 352.0,30.0 341.0,30.0Z"/><path d="M340.0,31.0 352.0,30.5 366.0,31.0 372.8,30.5 387.0,31.0 386.0,33.5 372.0,34.0 360.0,35.5 345.0,35.2Z"/><path d="M379.0,23.0 390.0,23.5 390.6,25.0 380.0,25.5Z"/><path d="M404.7,20.2 415.0,16.9 429.0,15.0 443.1,13.6 462.0,12.7 476.0,13.0 470.0,17.0 460.0,19.0 447.8,21.1 440.0,24.0 452.0,24.5 462.0,27.0 456.0,31.0 433.8,29.6 424.4,30.5 415.0,28.6 407.5,24.9Z"/><path d="M391.6,29.6 405.6,30.5 424.4,31.9 426.2,35.2 415.0,36.1 398.1,35.2 390.6,33.3Z"/><path d="M362.5,39.0 382.0,39.5 386.0,44.0 375.0,46.0 362.0,45.0Z"/><path d="M358.8,52.0 370.0,50.0 379.0,53.0 377.0,62.0 366.0,64.0 360.0,60.0Z"/><path d="M382.0,49.0 396.0,50.0 393.0,58.0 386.0,63.0 381.0,57.0Z"/><path d="M389.7,40.8 405.6,39.0 426.2,39.9 433.8,45.5 443.1,52.1 449.7,61.4 444.0,66.0 436.0,71.0 429.8,79.3 421.0,76.0 412.0,72.0 401.1,70.3 408.0,65.0 417.0,60.0 419.7,55.0 407.5,49.2 396.2,47.4Z"/><path d="M378.0,66.0 392.0,64.0 400.0,68.0 394.0,71.0 383.0,71.0Z"/><path d="M422.5,530.5 433.0,530.9 432.1,533.9 425.7,533.2Z"/><path d="M49.5,235.6 55.4,239.3 63.9,244.1 60.8,248.5 57.8,242.1 52.9,238.5Z"/><path d="M215.8,121.4 223.4,124.5 224.1,130.8 220.9,130.0 217.1,126.1Z"/><path d="M171.7,92.9 168.9,95.9 161.2,98.2 163.1,95.2Z"/><path d="M665.8,94.4 663.9,97.8 664.1,96.3Z"/></g>
<g fill="none" stroke="#e4e4e4" stroke-width="1" stroke-linejoin="round"><path d="M226.0,128.5 313.2,128.5 317.7,130.0 329.0,132.4"/><path d="M345.2,144.2 370.1,144.2 380.3,144.2 385.4,141.0 391.5,134.7 395.4,135.9 393.7,143.4"/><path d="M252.4,52.6 212.5,85.5 220.4,87.3 221.2,92.2 228.0,101.5 221.6,106.4"/><path d="M210.1,194.2 218.5,193.4 228.6,199.0 238.4,199.0 244.9,197.0 248.6,206.3 259.5,205.1 263.7,214.3 270.0,220.8"/><path d="M280.1,266.6 281.5,260.6 286.8,260.6 286.0,253.4 292.4,253.4 295.9,250.5"/><path d="M294.4,261.8 290.2,267.4 287.2,269.5"/><path d="M311.9,264.6 303.5,268.6 296.8,272.3"/><path d="M308.7,280.7 301.7,280.3"/><path d="M312.2,286.4 310.8,292.4"/><path d="M352.8,277.5 347.1,282.7 346.8,288.8 349.2,296.8 365.0,300.0 363.7,306.9 366.7,320.2"/><path d="M392.7,290.8 389.7,295.6 387.4,300.8 389.0,304.1"/><path d="M366.7,320.2 375.2,317.8 379.0,308.9 382.5,308.9 389.0,304.1 392.0,316.9 403.7,317.8 410.8,315.7 420.9,308.9"/><path d="M401.5,301.3 403.7,316.9"/><path d="M412.9,302.1 410.8,315.7"/><path d="M324.4,319.4 330.7,323.0 336.7,325.8"/><path d="M336.7,325.8 345.1,335.1 356.2,341.9"/><path d="M366.7,320.2 357.3,325.0 356.2,341.9"/><path d="M319.2,339.1 322.2,343.1 329.1,336.3 336.7,325.8"/><path d="M356.2,341.9 343.3,355.2 347.2,363.2 355.4,369.3 358.9,369.3"/><path d="M358.9,369.3 361.6,381.4 361.1,387.4 361.3,395.4 358.5,398.9"/><path d="M358.9,369.3 373.5,365.3 378.8,375.3 389.7,379.3 393.3,389.4 399.7,390.6 402.3,402.7"/><path d="M402.3,402.7 387.4,413.6"/><path d="M387.4,413.6 377.6,415.6 371.9,417.6"/><path d="M371.9,417.6 367.4,409.5 361.6,398.9"/><path d="M371.9,417.6 369.9,433.7 369.9,457.8 372.1,477.9 374.9,493.9 381.0,509.8 382.4,523.5 390.8,533.2 401.9,534.7"/><path d="M387.4,413.6 399.3,423.6 404.5,434.9 414.2,435.7 416.9,428.0"/><path d="M416.9,428.0 413.0,421.6 411.2,414.8 403.4,413.6 402.3,402.7"/><path d="M416.9,428.0 420.5,433.7 409.3,446.2"/><path d="M409.3,446.2 417.2,449.8 426.5,460.6"/><path d="M409.3,446.2 409.9,461.9"/><path d="M599.1,183.7 602.0,196.2 592.2,204.2 575.9,209.5"/><path d="M575.8,213.5 560.3,213.5"/><path d="M575.7,215.1 575.5,220.3 564.1,220.3 563.7,230.4 559.9,239.3 545.9,239.3"/><path d="M575.7,215.1 588.8,224.4 601.0,237.3 616.6,247.7 620.1,248.5"/><path d="M588.8,224.8 585.5,262.6 564.4,262.6 561.8,265.4"/><path d="M620.1,248.5 631.3,238.5 646.6,230.4"/><path d="M635.3,176.1 631.9,188.1 638.3,203.4"/><path d="M638.3,203.4 640.0,220.3 643.5,227.2 646.6,230.4"/><path d="M638.3,203.4 645.1,191.4"/><path d="M646.6,230.4 657.3,230.4 688.9,246.5"/><path d="M688.9,244.5 692.4,244.5 692.2,236.4"/><path d="M691.2,197.8 692.2,236.4"/><path d="M692.2,236.4 733.6,236.4"/><path d="M617.5,264.2 617.4,269.9 629.4,272.7 652.7,271.5"/><path d="M652.7,271.5 659.4,264.6 657.3,230.4"/><path d="M605.5,264.2 617.1,264.2 620.1,248.5"/><path d="M605.5,264.2 611.8,274.7 613.2,277.9"/><path d="M688.9,246.5 687.5,262.6 684.2,280.7 685.7,284.7"/><path d="M659.5,294.8 671.9,288.8 685.6,281.1"/><path d="M654.1,272.7 659.5,284.7 659.5,294.8"/><path d="M685.7,284.7 693.1,286.8 703.7,284.7 714.3,286.8 724.8,276.7"/><path d="M724.8,276.7 733.3,266.6 740.2,252.5"/><path d="M724.8,276.7 723.3,290.8 728.7,298.8 730.2,306.5"/><path d="M685.7,284.7 702.1,304.9 713.9,310.9 730.2,306.5"/><path d="M756.7,280.7 774.7,292.8 757.2,306.9 753.3,308.9"/><path d="M753.3,308.9 752.3,331.8"/><path d="M753.3,308.9 732.3,306.9 730.2,306.5"/><path d="M725.3,329.0 743.7,343.9"/><path d="M730.2,306.5 725.3,321.0 725.3,329.0 711.1,329.0 709.3,321.0 713.9,310.9"/><path d="M747.5,367.3 735.4,371.3 728.4,369.3"/><path d="M711.1,329.0 709.2,343.1 714.4,359.2 723.2,363.2"/><path d="M647.8,345.1 658.5,343.1 664.9,329.0 669.1,316.9 670.2,310.5"/><path d="M670.2,310.5 675.5,304.9 702.1,304.9 713.9,310.9"/><path d="M639.3,316.1 661.3,316.1 670.2,310.5"/><path d="M644.6,316.1 656.0,329.0 644.6,341.1"/><path d="M661.3,316.1 663.4,310.5"/><path d="M648.2,349.2 663.0,353.2 666.6,357.2 681.8,354.4 684.2,369.3 689.5,369.3"/><path d="M689.5,369.3 701.8,375.3 708.8,379.3 712.6,359.2"/><path d="M689.5,369.3 682.3,377.3 682.2,389.4 687.3,395.4"/><path d="M646.3,394.6 675.1,395.0 678.5,397.5 687.3,395.4"/><path d="M678.5,397.5 674.8,413.6 674.6,424.8"/><path d="M662.3,440.1 674.3,440.5 674.6,424.8"/><path d="M674.6,424.8 693.6,427.6 707.5,414.4"/><path d="M693.3,396.6 711.7,387.8 719.0,391.4 720.3,405.5 714.1,415.2 707.5,414.4 697.6,405.5 693.3,396.6"/><path d="M728.4,369.3 726.3,383.4 728.8,391.4 711.7,387.8"/><path d="M714.1,415.2 715.9,429.2 718.8,433.3"/><path d="M634.7,306.5 645.3,296.8 654.1,272.7"/><path d="M614.1,299.2 617.4,276.7"/><path d="M593.8,304.5 594.7,280.7 604.6,280.7 608.8,300.4"/><path d="M577.9,306.9 575.5,292.8 576.3,282.7 585.2,283.9 595.0,286.8"/><path d="M561.8,265.4 564.1,274.7 574.6,280.7 585.2,282.7 605.5,264.2"/><path d="M545.8,274.7 564.1,275.1"/><path d="M556.8,286.8 567.4,290.8 574.4,295.6"/><path d="M733.3,266.6 742.1,265.4 754.7,273.9"/><path d="M685.6,281.1 691.4,288.8 702.1,304.9"/><path d="M602.1,150.5 618.0,154.5"/><path d="M617.0,120.3 623.0,124.5 627.0,126.5 634.4,128.5 632.5,134.0"/><path d="M632.5,134.0 627.7,139.5 630.5,140.6 632.3,148.1"/><path d="M581.0,156.1 585.3,160.1 583.2,166.1 582.8,172.1 582.3,175.3"/><path d="M652.6,109.1 654.7,121.1"/><path d="M636.1,106.0 639.4,106.0"/><path d="M631.6,111.8 627.7,121.4"/><path d="M632.5,134.0 649.4,134.3 651.8,130.4 646.5,123.4 654.7,121.1"/><path d="M654.7,121.1 666.2,124.5 669.4,126.5 679.8,128.5"/><path d="M641.6,138.7 652.0,137.9 652.1,141.8"/><path d="M661.5,129.2 660.4,134.0 659.2,136.7"/><path d="M668.3,107.6 680.3,107.6 681.0,116.8 683.0,122.6 679.8,128.5"/><path d="M672.8,102.7 681.1,100.0 689.0,102.7 681.9,109.1 680.3,107.6"/><path d="M681.4,94.8 690.2,95.9"/><path d="M691.4,88.8 691.1,95.9 693.0,101.5 705.2,111.1 706.2,116.4 712.2,115.7 720.1,123.4 726.4,124.5 728.9,135.1"/><path d="M682.7,118.8 702.5,118.8 706.2,116.4"/><path d="M678.0,130.4 662.5,132.4 659.2,136.7 667.9,140.2 673.3,140.6 679.8,134.0 680.6,132.4"/><path d="M680.6,132.4 693.0,131.2 702.7,143.4"/><path d="M680.7,148.1 691.4,149.3 699.7,148.9"/><path d="M673.3,140.6 668.7,145.0 669.0,150.9 670.7,154.1 674.9,160.1 682.1,160.5 687.2,158.9 693.2,157.3 698.3,156.1"/><path d="M680.7,148.1 680.4,154.9 682.0,160.1"/><path d="M673.3,140.6 669.6,143.4 680.7,148.1"/><path d="M693.2,157.3 692.2,160.9"/><path d="M693.0,131.2 703.1,137.9 698.8,142.2"/><path d="M667.1,54.7 660.9,58.1 652.0,65.0 645.5,75.7 646.4,81.1 644.3,90.3"/><path d="M677.8,65.7 668.6,56.4 667.1,54.7"/><path d="M667.1,54.7 684.7,51.2 688.7,51.9"/><path d="M688.7,51.9 688.8,54.7 692.1,65.0 698.5,79.3 690.3,84.7"/><path d="M763.1,138.3 755.3,130.4 756.8,122.6 768.6,120.7 787.6,122.6 796.2,120.7 795.3,113.0 812.9,107.2 830.0,109.1 854.4,120.7 863.9,121.4 878.9,127.7"/><path d="M878.9,127.7 869.7,136.3 869.4,144.2 867.2,152.1 866.9,154.1"/><path d="M866.9,154.1 849.5,152.1 837.1,154.1 830.6,160.1 813.0,148.1 794.0,141.8 789.5,158.1 789.3,158.9 780.6,154.1"/><path d="M789.3,158.9 798.8,156.1 802.3,150.1 809.5,160.1 821.5,170.1 827.4,174.9"/><path d="M827.4,174.9 837.2,174.1 854.3,176.1 848.6,166.1 839.9,164.1 830.6,160.1"/><path d="M878.9,127.7 885.9,122.6 911.6,124.5 920.7,118.8 935.8,123.8 962.0,126.5 968.6,124.5"/><path d="M878.9,127.7 895.7,138.3 906.4,145.0 919.2,153.3 934.1,154.1 948.7,158.1 963.2,154.1 965.9,146.2 975.1,142.2 983.4,134.3 969.7,126.5 968.6,124.5"/><path d="M968.6,124.5 974.0,111.8 985.5,111.1 1003.8,126.5 1029.1,131.2 1031.9,144.2 1030.1,154.1"/><path d="M866.9,154.1 849.1,164.1 852.8,170.1 855.9,176.1 866.7,182.1 873.4,194.2 881.9,202.2"/><path d="M881.9,202.2 900.8,212.3 911.3,213.1 921.4,212.3 934.3,208.3 944.9,218.3 945.0,228.4 956.9,238.5 963.3,234.4 975.7,236.4 981.3,238.5"/><path d="M864.6,184.1 859.9,194.2 858.5,204.2 847.6,212.3 846.0,226.4 842.1,229.2"/><path d="M882.3,204.2 881.6,210.3 908.8,218.3 908.5,213.1"/><path d="M914.9,236.4 911.6,224.4 913.9,218.3 923.7,224.4 921.7,230.4 926.9,240.5"/><path d="M939.0,214.3 931.2,228.4 928.8,236.4 926.9,240.5"/><path d="M854.3,176.1 844.5,184.1 842.2,190.2 833.5,198.2 828.0,206.3 814.3,206.3"/><path d="M814.3,206.3 816.2,200.2 809.6,186.1 809.0,174.1"/><path d="M814.3,206.3 823.3,218.3 818.5,224.0"/><path d="M809.0,174.1 795.4,172.1 785.6,174.9"/><path d="M813.9,182.1 827.4,174.9"/><path d="M771.4,204.7 761.6,192.2 760.4,182.1 755.4,174.9"/><path d="M755.4,174.9 754.2,165.3"/><path d="M726.4,176.9 739.6,175.7 747.6,175.7 755.4,174.9"/><path d="M742.4,158.1 749.0,159.3 754.2,165.3"/><path d="M747.6,175.7 744.1,186.1 737.1,190.6 738.2,195.0 728.9,207.5"/><path d="M738.2,195.0 758.7,207.9 768.3,207.9"/><path d="M755.2,259.0 761.0,254.6 786.9,248.5 791.2,256.6"/><path d="M786.9,248.5 798.2,234.4 784.1,227.6"/><path d="M725.1,206.3 722.2,199.0"/><path d="M737.1,190.6 727.9,193.4 726.4,191.8"/><path d="M736.4,150.1 751.5,154.1 764.8,156.5"/><path d="M954.5,243.3 946.5,252.5 952.1,260.6 954.8,274.7 953.6,284.7"/><path d="M954.5,243.3 962.3,252.5 972.0,254.6 976.2,264.6"/><path d="M975.4,267.4 967.6,267.4 966.5,274.7"/><path d="M960.1,234.4 969.7,242.5 974.6,252.5 982.7,260.6 983.4,266.6"/><path d="M983.4,266.6 979.2,278.7 974.3,283.1"/><path d="M959.6,298.8 966.4,300.8"/><path d="M1024.1,173.3 1030.5,169.7"/><path d="M1014.9,164.9 1019.1,157.3 1029.7,154.1"/><path d="M994.0,318.6 1002.6,321.0 1011.4,317.8 1022.8,307.7"/><path d="M1105.4,335.5 1103.9,361.6"/></g>
<g fill="none" stroke="#fff" stroke-width="2" stroke-linejoin="round" stroke-linecap="round"><path d="M363.3,148.5 368.8,145.0 374.8,142.2 379.3,139.1 384.2,137.1 390.2,133.2 397.4,129.2 401.9,127.3"/></g>
<g class="t" font-size="18.5" stroke="#000" stroke-width="0.35"><text x="216.2" y="176.6" textLength="150" lengthAdjust="spacingAndGlyphs">M4.7 20Apr 10:41</text><text x="234.5" y="217.2" textLength="150" lengthAdjust="spacingAndGlyphs">M4.0 20Apr 03:36</text><text x="60.0" y="245" textLength="150" lengthAdjust="spacingAndGlyphs">M3.9 20Apr 02:50</text><text x="85.0" y="265.75" textLength="150" lengthAdjust="spacingAndGlyphs">M4.1 20Apr 10:46</text><text x="297.5" y="277" textLength="150" lengthAdjust="spacingAndGlyphs">M4.2 20Apr 13:33</text><text x="376.8" y="256.25" textLength="150" lengthAdjust="spacingAndGlyphs">M3.9 20Apr 03:18</text><text x="394.6" y="422.75" textLength="150" lengthAdjust="spacingAndGlyphs">M4.1 20Apr 10:31</text><text x="398.9" y="478.4" textLength="150" lengthAdjust="spacingAndGlyphs">M4.2 20Apr 18:12</text><text x="748.0" y="160" textLength="150" lengthAdjust="spacingAndGlyphs">M3.7 20Apr 10:34</text><text x="706.8" y="194.5" textLength="150" lengthAdjust="spacingAndGlyphs">M3.7 20Apr 10:51</text><text x="892.5" y="199" textLength="150" lengthAdjust="spacingAndGlyphs">M4.4 20Apr 07:55</text><text x="771.0" y="248" textLength="150" lengthAdjust="spacingAndGlyphs">M4.3 20Apr 04:37</text><text x="1110.5" y="138.75" textLength="150" lengthAdjust="spacingAndGlyphs">M4.8 20Apr 19:10</text><text x="1105.0" y="189.25" textLength="150" lengthAdjust="spacingAndGlyphs">M7.4 20Apr 07:53</text><text x="1089.2" y="235" textLength="150" lengthAdjust="spacingAndGlyphs">M5.3 20Apr 09:52</text><text x="1050.0" y="256.25" textLength="150" lengthAdjust="spacingAndGlyphs">M4.4 20Apr 21:07</text><text x="1067.0" y="295.2" textLength="150" lengthAdjust="spacingAndGlyphs">M4.6 20Apr 11:44</text><text x="891.0" y="327.1" textLength="150" lengthAdjust="spacingAndGlyphs">M4.4 20Apr 07:32</text><text x="900.0" y="350" textLength="150" lengthAdjust="spacingAndGlyphs">M4.5 20Apr 10:15</text><text x="1120.0" y="352.3" textLength="150" lengthAdjust="spacingAndGlyphs">M5.3 20Apr 18:47</text><text x="1066.3" y="374.1" textLength="150" lengthAdjust="spacingAndGlyphs">M5.2 20Apr 05:19</text><text x="859.8" y="382.5" textLength="150" lengthAdjust="spacingAndGlyphs">M4.0 20Apr 01:11</text><text x="1103.5" y="472.5" textLength="150" lengthAdjust="spacingAndGlyphs">M5.2 19Apr 23:52</text><text x="993.0" y="542.5" textLength="150" lengthAdjust="spacingAndGlyphs">M5.4 20Apr 01:21</text></g>
<g transform="translate(199.2,162.2)"><circle r="17.50" fill="none" stroke="#fff" stroke-width="4.5" opacity="0.2"/><g opacity="0.50"><circle r="17.50" fill="none" stroke="#d03c14" stroke-width="2.5"/><circle r="17.50" fill="none" stroke="#482008" stroke-width="0.8" opacity="0.7"/></g><circle r="12.90" fill="none" stroke="#fff" stroke-width="4.5" opacity="0.2"/><g opacity="0.57"><circle r="12.90" fill="none" stroke="#d03c14" stroke-width="2.5"/><circle r="12.90" fill="none" stroke="#482008" stroke-width="0.8" opacity="0.7"/></g><circle r="8.30" fill="none" stroke="#fff" stroke-width="4.5" opacity="0.2"/><g opacity="0.68"><circle r="8.30" fill="none" stroke="#d03c14" stroke-width="2.5"/><circle r="8.30" fill="none" stroke="#482008" stroke-width="0.8" opacity="0.7"/></g><circle r="3.70" fill="none" stroke="#fff" stroke-width="5.2" opacity="0.2"/><g opacity="0.95"><circle r="3.70" fill="none" stroke="#d03c14" stroke-width="3.2"/><circle r="3.70" fill="none" stroke="#482008" stroke-width="0.8" opacity="0.7"/></g><circle r="2.1" fill="#fff" opacity="0.85"/></g><g transform="translate(217.9,203.2)"><circle r="17.50" fill="none" stroke="#fff" stroke-width="4.5" opacity="0.2"/><g opacity="0.50"><circle r="17.50" fill="none" stroke="#d03c14" stroke-width="2.5"/><circle r="17.50" fill="none" stroke="#482008" stroke-width="0.8" opacity="0.7"/></g><circle r="12.90" fill="none" stroke="#fff" stroke-width="4.5" opacity="0.2"/><g opacity="0.57"><circle r="12.90" fill="none" stroke="#d03c14" stroke-width="2.5"/><circle r="12.90" fill="none" stroke="#482008" stroke-width="0.8" opacity="0.7"/></g><circle r="8.30" fill="none" stroke="#fff" stroke-width="4.5" opacity="0.2"/><g opacity="0.68"><circle r="8.30" fill="none" stroke="#d03c14" stroke-width="2.5"/><circle r="8.30" fill="none" stroke="#482008" stroke-width="0.8" opacity="0.7"/></g><circle r="3.70" fill="none" stroke="#fff" stroke-width="5.2" opacity="0.2"/><g opacity="0.95"><circle r="3.70" fill="none" stroke="#d03c14" stroke-width="3.2"/><circle r="3.70" fill="none" stroke="#482008" stroke-width="0.8" opacity="0.7"/></g><circle r="2.1" fill="#fff" opacity="0.85"/></g><g transform="translate(364.3,250.3)"><circle r="13.70" fill="none" stroke="#fff" stroke-width="4.5" opacity="0.2"/><g opacity="0.57"><circle r="13.70" fill="none" stroke="#1414c0" stroke-width="2.5"/><circle r="13.70" fill="none" stroke="#060648" stroke-width="0.8" opacity="0.7"/></g><circle r="8.70" fill="none" stroke="#fff" stroke-width="4.5" opacity="0.2"/><g opacity="0.68"><circle r="8.70" fill="none" stroke="#1414c0" stroke-width="2.5"/><circle r="8.70" fill="none" stroke="#060648" stroke-width="0.8" opacity="0.7"/></g><circle r="3.70" fill="none" stroke="#fff" stroke-width="5.2" opacity="0.2"/><g opacity="0.95"><circle r="3.70" fill="none" stroke="#1414c0" stroke-width="3.2"/><circle r="3.70" fill="none" stroke="#060648" stroke-width="0.8" opacity="0.7"/></g><circle r="2.1" fill="#fff" opacity="0.85"/></g><g transform="translate(260.2,236.2)"><circle r="13.70" fill="none" stroke="#fff" stroke-width="4.5" opacity="0.2"/><g opacity="0.57"><circle r="13.70" fill="none" stroke="#c80c2a" stroke-width="2.5"/><circle r="13.70" fill="none" stroke="#480010" stroke-width="0.8" opacity="0.7"/></g><circle r="8.70" fill="none" stroke="#fff" stroke-width="4.5" opacity="0.2"/><g opacity="0.68"><circle r="8.70" fill="none" stroke="#c80c2a" stroke-width="2.5"/><circle r="8.70" fill="none" stroke="#480010" stroke-width="0.8" opacity="0.7"/></g><circle r="3.70" fill="none" stroke="#fff" stroke-width="5.2" opacity="0.2"/><g opacity="0.95"><circle r="3.70" fill="none" stroke="#c80c2a" stroke-width="3.2"/><circle r="3.70" fill="none" stroke="#480010" stroke-width="0.8" opacity="0.7"/></g><circle r="2.1" fill="#fff" opacity="0.85"/></g><g transform="translate(226.9,247.4)"><circle r="13.70" fill="none" stroke="#fff" stroke-width="4.5" opacity="0.2"/><g opacity="0.57"><circle r="13.70" fill="none" stroke="#c80c2a" stroke-width="2.5"/><circle r="13.70" fill="none" stroke="#480010" stroke-width="0.8" opacity="0.7"/></g><circle r="8.70" fill="none" stroke="#fff" stroke-width="4.5" opacity="0.2"/><g opacity="0.68"><circle r="8.70" fill="none" stroke="#c80c2a" stroke-width="2.5"/><circle r="8.70" fill="none" stroke="#480010" stroke-width="0.8" opacity="0.7"/></g><circle r="3.70" fill="none" stroke="#fff" stroke-width="5.2" opacity="0.2"/><g opacity="0.95"><circle r="3.70" fill="none" stroke="#c80c2a" stroke-width="3.2"/><circle r="3.70" fill="none" stroke="#480010" stroke-width="0.8" opacity="0.7"/></g><circle r="2.1" fill="#fff" opacity="0.85"/></g><g transform="translate(248.4,252.4)"><circle r="17.50" fill="none" stroke="#fff" stroke-width="4.5" opacity="0.2"/><g opacity="0.50"><circle r="17.50" fill="none" stroke="#a89c10" stroke-width="2.5"/><circle r="17.50" fill="none" stroke="#343000" stroke-width="0.8" opacity="0.7"/></g><circle r="12.90" fill="none" stroke="#fff" stroke-width="4.5" opacity="0.2"/><g opacity="0.57"><circle r="12.90" fill="none" stroke="#a89c10" stroke-width="2.5"/><circle r="12.90" fill="none" stroke="#343000" stroke-width="0.8" opacity="0.7"/></g><circle r="8.30" fill="none" stroke="#fff" stroke-width="4.5" opacity="0.2"/><g opacity="0.68"><circle r="8.30" fill="none" stroke="#a89c10" stroke-width="2.5"/><circle r="8.30" fill="none" stroke="#343000" stroke-width="0.8" opacity="0.7"/></g><circle r="3.70" fill="none" stroke="#fff" stroke-width="5.2" opacity="0.2"/><g opacity="0.95"><circle r="3.70" fill="none" stroke="#a89c10" stroke-width="3.2"/><circle r="3.70" fill="none" stroke="#343000" stroke-width="0.8" opacity="0.7"/></g><circle r="2.1" fill="#fff" opacity="0.85"/></g><g transform="translate(281.4,262.9)"><circle r="17.50" fill="none" stroke="#fff" stroke-width="4.5" opacity="0.2"/><g opacity="0.50"><circle r="17.50" fill="none" stroke="#1414c0" stroke-width="2.5"/><circle r="17.50" fill="none" stroke="#060648" stroke-width="0.8" opacity="0.7"/></g><circle r="12.90" fill="none" stroke="#fff" stroke-width="4.5" opacity="0.2"/><g opacity="0.57"><circle r="12.90" fill="none" stroke="#1414c0" stroke-width="2.5"/><circle r="12.90" fill="none" stroke="#060648" stroke-width="0.8" opacity="0.7"/></g><circle r="8.30" fill="none" stroke="#fff" stroke-width="4.5" opacity="0.2"/><g opacity="0.68"><circle r="8.30" fill="none" stroke="#1414c0" stroke-width="2.5"/><circle r="8.30" fill="none" stroke="#060648" stroke-width="0.8" opacity="0.7"/></g><circle r="3.70" fill="none" stroke="#fff" stroke-width="5.2" opacity="0.2"/><g opacity="0.95"><circle r="3.70" fill="none" stroke="#1414c0" stroke-width="3.2"/><circle r="3.70" fill="none" stroke="#060648" stroke-width="0.8" opacity="0.7"/></g><circle r="2.1" fill="#fff" opacity="0.85"/></g><g transform="translate(377.9,408.1)"><circle r="17.50" fill="none" stroke="#fff" stroke-width="4.5" opacity="0.2"/><g opacity="0.50"><circle r="17.50" fill="none" stroke="#2c1488" stroke-width="2.5"/><circle r="17.50" fill="none" stroke="#140838" stroke-width="0.8" opacity="0.7"/></g><circle r="12.90" fill="none" stroke="#fff" stroke-width="4.5" opacity="0.2"/><g opacity="0.57"><circle r="12.90" fill="none" stroke="#2c1488" stroke-width="2.5"/><circle r="12.90" fill="none" stroke="#140838" stroke-width="0.8" opacity="0.7"/></g><circle r="8.30" fill="none" stroke="#fff" stroke-width="4.5" opacity="0.2"/><g opacity="0.68"><circle r="8.30" fill="none" stroke="#2c1488" stroke-width="2.5"/><circle r="8.30" fill="none" stroke="#140838" stroke-width="0.8" opacity="0.7"/></g><circle r="3.70" fill="none" stroke="#fff" stroke-width="5.2" opacity="0.2"/><g opacity="0.95"><circle r="3.70" fill="none" stroke="#2c1488" stroke-width="3.2"/><circle r="3.70" fill="none" stroke="#140838" stroke-width="0.8" opacity="0.7"/></g><circle r="2.1" fill="#fff" opacity="0.85"/></g><g transform="translate(382.1,464.4)"><circle r="17.50" fill="none" stroke="#fff" stroke-width="4.5" opacity="0.2"/><g opacity="0.50"><circle r="17.50" fill="none" stroke="#1ca41c" stroke-width="2.5"/><circle r="17.50" fill="none" stroke="#063006" stroke-width="0.8" opacity="0.7"/></g><circle r="12.90" fill="none" stroke="#fff" stroke-width="4.5" opacity="0.2"/><g opacity="0.57"><circle r="12.90" fill="none" stroke="#1ca41c" stroke-width="2.5"/><circle r="12.90" fill="none" stroke="#063006" stroke-width="0.8" opacity="0.7"/></g><circle r="8.30" fill="none" stroke="#fff" stroke-width="4.5" opacity="0.2"/><g opacity="0.68"><circle r="8.30" fill="none" stroke="#1ca41c" stroke-width="2.5"/><circle r="8.30" fill="none" stroke="#063006" stroke-width="0.8" opacity="0.7"/></g><circle r="3.70" fill="none" stroke="#fff" stroke-width="5.2" opacity="0.2"/><g opacity="0.95"><circle r="3.70" fill="none" stroke="#1ca41c" stroke-width="3.2"/><circle r="3.70" fill="none" stroke="#063006" stroke-width="0.8" opacity="0.7"/></g><circle r="2.1" fill="#fff" opacity="0.85"/></g><g transform="translate(734.5,150.5)"><circle r="13.70" fill="none" stroke="#fff" stroke-width="4.5" opacity="0.2"/><g opacity="0.57"><circle r="13.70" fill="none" stroke="#c80c2a" stroke-width="2.5"/><circle r="13.70" fill="none" stroke="#480010" stroke-width="0.8" opacity="0.7"/></g><circle r="8.70" fill="none" stroke="#fff" stroke-width="4.5" opacity="0.2"/><g opacity="0.68"><circle r="8.70" fill="none" stroke="#c80c2a" stroke-width="2.5"/><circle r="8.70" fill="none" stroke="#480010" stroke-width="0.8" opacity="0.7"/></g><circle r="3.70" fill="none" stroke="#fff" stroke-width="5.2" opacity="0.2"/><g opacity="0.95"><circle r="3.70" fill="none" stroke="#c80c2a" stroke-width="3.2"/><circle r="3.70" fill="none" stroke="#480010" stroke-width="0.8" opacity="0.7"/></g><circle r="2.1" fill="#fff" opacity="0.85"/></g><g transform="translate(693.9,184.5)"><circle r="13.70" fill="none" stroke="#fff" stroke-width="4.5" opacity="0.2"/><g opacity="0.57"><circle r="13.70" fill="none" stroke="#d03c14" stroke-width="2.5"/><circle r="13.70" fill="none" stroke="#482008" stroke-width="0.8" opacity="0.7"/></g><circle r="8.70" fill="none" stroke="#fff" stroke-width="4.5" opacity="0.2"/><g opacity="0.68"><circle r="8.70" fill="none" stroke="#d03c14" stroke-width="2.5"/><circle r="8.70" fill="none" stroke="#482008" stroke-width="0.8" opacity="0.7"/></g><circle r="3.70" fill="none" stroke="#fff" stroke-width="5.2" opacity="0.2"/><g opacity="0.95"><circle r="3.70" fill="none" stroke="#d03c14" stroke-width="3.2"/><circle r="3.70" fill="none" stroke="#482008" stroke-width="0.8" opacity="0.7"/></g><circle r="2.1" fill="#fff" opacity="0.85"/></g><g transform="translate(933.9,234.5)"><circle r="17.50" fill="none" stroke="#fff" stroke-width="4.5" opacity="0.2"/><g opacity="0.50"><circle r="17.50" fill="none" stroke="#1ca41c" stroke-width="2.5"/><circle r="17.50" fill="none" stroke="#063006" stroke-width="0.8" opacity="0.7"/></g><circle r="12.90" fill="none" stroke="#fff" stroke-width="4.5" opacity="0.2"/><g opacity="0.57"><circle r="12.90" fill="none" stroke="#1ca41c" stroke-width="2.5"/><circle r="12.90" fill="none" stroke="#063006" stroke-width="0.8" opacity="0.7"/></g><circle r="8.30" fill="none" stroke="#fff" stroke-width="4.5" opacity="0.2"/><g opacity="0.68"><circle r="8.30" fill="none" stroke="#1ca41c" stroke-width="2.5"/><circle r="8.30" fill="none" stroke="#063006" stroke-width="0.8" opacity="0.7"/></g><circle r="3.70" fill="none" stroke="#fff" stroke-width="5.2" opacity="0.2"/><g opacity="0.95"><circle r="3.70" fill="none" stroke="#1ca41c" stroke-width="3.2"/><circle r="3.70" fill="none" stroke="#063006" stroke-width="0.8" opacity="0.7"/></g><circle r="2.1" fill="#fff" opacity="0.85"/></g><g transform="translate(1158.3,120)"><circle r="17.50" fill="none" stroke="#fff" stroke-width="4.5" opacity="0.2"/><g opacity="0.50"><circle r="17.50" fill="none" stroke="#a89c10" stroke-width="2.5"/><circle r="17.50" fill="none" stroke="#343000" stroke-width="0.8" opacity="0.7"/></g><circle r="12.90" fill="none" stroke="#fff" stroke-width="4.5" opacity="0.2"/><g opacity="0.57"><circle r="12.90" fill="none" stroke="#a89c10" stroke-width="2.5"/><circle r="12.90" fill="none" stroke="#343000" stroke-width="0.8" opacity="0.7"/></g><circle r="8.30" fill="none" stroke="#fff" stroke-width="4.5" opacity="0.2"/><g opacity="0.68"><circle r="8.30" fill="none" stroke="#a89c10" stroke-width="2.5"/><circle r="8.30" fill="none" stroke="#343000" stroke-width="0.8" opacity="0.7"/></g><circle r="3.70" fill="none" stroke="#fff" stroke-width="5.2" opacity="0.2"/><g opacity="0.95"><circle r="3.70" fill="none" stroke="#a89c10" stroke-width="3.2"/><circle r="3.70" fill="none" stroke="#343000" stroke-width="0.8" opacity="0.7"/></g><circle r="2.1" fill="#fff" opacity="0.85"/></g><g transform="translate(1094.3,124.3)"><circle r="17.50" fill="none" stroke="#fff" stroke-width="4.5" opacity="0.2"/><g opacity="0.50"><circle r="17.50" fill="none" stroke="#a89c10" stroke-width="2.5"/><circle r="17.50" fill="none" stroke="#343000" stroke-width="0.8" opacity="0.7"/></g><circle r="12.90" fill="none" stroke="#fff" stroke-width="4.5" opacity="0.2"/><g opacity="0.57"><circle r="12.90" fill="none" stroke="#a89c10" stroke-width="2.5"/><circle r="12.90" fill="none" stroke="#343000" stroke-width="0.8" opacity="0.7"/></g><circle r="8.30" fill="none" stroke="#fff" stroke-width="4.5" opacity="0.2"/><g opacity="0.68"><circle r="8.30" fill="none" stroke="#a89c10" stroke-width="2.5"/><circle r="8.30" fill="none" stroke="#343000" stroke-width="0.8" opacity="0.7"/></g><circle r="3.70" fill="none" stroke="#fff" stroke-width="5.2" opacity="0.2"/><g opacity="0.95"><circle r="3.70" fill="none" stroke="#a89c10" stroke-width="3.2"/><circle r="3.70" fill="none" stroke="#343000" stroke-width="0.8" opacity="0.7"/></g><circle r="2.1" fill="#fff" opacity="0.85"/></g><g transform="translate(1076.3,163.2)"><circle r="33.70" fill="none" stroke="#fff" stroke-width="4.5" opacity="0.2"/><g opacity="0.36"><circle r="33.70" fill="none" stroke="#a89c10" stroke-width="2.5"/><circle r="33.70" fill="none" stroke="#343000" stroke-width="0.8" opacity="0.7"/></g><circle r="28.70" fill="none" stroke="#fff" stroke-width="4.5" opacity="0.2"/><g opacity="0.40"><circle r="28.70" fill="none" stroke="#a89c10" stroke-width="2.5"/><circle r="28.70" fill="none" stroke="#343000" stroke-width="0.8" opacity="0.7"/></g><circle r="23.70" fill="none" stroke="#fff" stroke-width="4.5" opacity="0.2"/><g opacity="0.44"><circle r="23.70" fill="none" stroke="#a89c10" stroke-width="2.5"/><circle r="23.70" fill="none" stroke="#343000" stroke-width="0.8" opacity="0.7"/></g><circle r="18.70" fill="none" stroke="#fff" stroke-width="4.5" opacity="0.2"/><g opacity="0.50"><circle r="18.70" fill="none" stroke="#a89c10" stroke-width="2.5"/><circle r="18.70" fill="none" stroke="#343000" stroke-width="0.8" opacity="0.7"/></g><circle r="13.70" fill="none" stroke="#fff" stroke-width="4.5" opacity="0.2"/><g opacity="0.57"><circle r="13.70" fill="none" stroke="#a89c10" stroke-width="2.5"/><circle r="13.70" fill="none" stroke="#343000" stroke-width="0.8" opacity="0.7"/></g><circle r="8.70" fill="none" stroke="#fff" stroke-width="4.5" opacity="0.2"/><g opacity="0.68"><circle r="8.70" fill="none" stroke="#a89c10" stroke-width="2.5"/><circle r="8.70" fill="none" stroke="#343000" stroke-width="0.8" opacity="0.7"/></g><circle r="3.70" fill="none" stroke="#fff" stroke-width="5.2" opacity="0.2"/><g opacity="0.95"><circle r="3.70" fill="none" stroke="#a89c10" stroke-width="3.2"/><circle r="3.70" fill="none" stroke="#343000" stroke-width="0.8" opacity="0.7"/></g><circle r="2.1" fill="#fff" opacity="0.85"/></g><g transform="translate(1056.3,185.1)"><circle r="17.50" fill="none" stroke="#fff" stroke-width="4.5" opacity="0.2"/><g opacity="0.50"><circle r="17.50" fill="none" stroke="#1ca41c" stroke-width="2.5"/><circle r="17.50" fill="none" stroke="#063006" stroke-width="0.8" opacity="0.7"/></g><circle r="12.90" fill="none" stroke="#fff" stroke-width="4.5" opacity="0.2"/><g opacity="0.57"><circle r="12.90" fill="none" stroke="#1ca41c" stroke-width="2.5"/><circle r="12.90" fill="none" stroke="#063006" stroke-width="0.8" opacity="0.7"/></g><circle r="8.30" fill="none" stroke="#fff" stroke-width="4.5" opacity="0.2"/><g opacity="0.68"><circle r="8.30" fill="none" stroke="#1ca41c" stroke-width="2.5"/><circle r="8.30" fill="none" stroke="#063006" stroke-width="0.8" opacity="0.7"/></g><circle r="3.70" fill="none" stroke="#fff" stroke-width="5.2" opacity="0.2"/><g opacity="0.95"><circle r="3.70" fill="none" stroke="#1ca41c" stroke-width="3.2"/><circle r="3.70" fill="none" stroke="#063006" stroke-width="0.8" opacity="0.7"/></g><circle r="2.1" fill="#fff" opacity="0.85"/></g><g transform="translate(1068.2,217)"><circle r="23.70" fill="none" stroke="#fff" stroke-width="4.5" opacity="0.2"/><g opacity="0.44"><circle r="23.70" fill="none" stroke="#2c1488" stroke-width="2.5"/><circle r="23.70" fill="none" stroke="#140838" stroke-width="0.8" opacity="0.7"/></g><circle r="18.70" fill="none" stroke="#fff" stroke-width="4.5" opacity="0.2"/><g opacity="0.50"><circle r="18.70" fill="none" stroke="#2c1488" stroke-width="2.5"/><circle r="18.70" fill="none" stroke="#140838" stroke-width="0.8" opacity="0.7"/></g><circle r="13.70" fill="none" stroke="#fff" stroke-width="4.5" opacity="0.2"/><g opacity="0.57"><circle r="13.70" fill="none" stroke="#2c1488" stroke-width="2.5"/><circle r="13.70" fill="none" stroke="#140838" stroke-width="0.8" opacity="0.7"/></g><circle r="8.70" fill="none" stroke="#fff" stroke-width="4.5" opacity="0.2"/><g opacity="0.68"><circle r="8.70" fill="none" stroke="#2c1488" stroke-width="2.5"/><circle r="8.70" fill="none" stroke="#140838" stroke-width="0.8" opacity="0.7"/></g><circle r="3.70" fill="none" stroke="#fff" stroke-width="5.2" opacity="0.2"/><g opacity="0.95"><circle r="3.70" fill="none" stroke="#2c1488" stroke-width="3.2"/><circle r="3.70" fill="none" stroke="#140838" stroke-width="0.8" opacity="0.7"/></g><circle r="2.1" fill="#fff" opacity="0.85"/></g><g transform="translate(1033.75,260.6)"><circle r="17.50" fill="none" stroke="#fff" stroke-width="4.5" opacity="0.2"/><g opacity="0.50"><circle r="17.50" fill="none" stroke="#c80c2a" stroke-width="2.5"/><circle r="17.50" fill="none" stroke="#480010" stroke-width="0.8" opacity="0.7"/></g><circle r="12.90" fill="none" stroke="#fff" stroke-width="4.5" opacity="0.2"/><g opacity="0.57"><circle r="12.90" fill="none" stroke="#c80c2a" stroke-width="2.5"/><circle r="12.90" fill="none" stroke="#480010" stroke-width="0.8" opacity="0.7"/></g><circle r="8.30" fill="none" stroke="#fff" stroke-width="4.5" opacity="0.2"/><g opacity="0.68"><circle r="8.30" fill="none" stroke="#c80c2a" stroke-width="2.5"/><circle r="8.30" fill="none" stroke="#480010" stroke-width="0.8" opacity="0.7"/></g><circle r="3.70" fill="none" stroke="#fff" stroke-width="5.2" opacity="0.2"/><g opacity="0.95"><circle r="3.70" fill="none" stroke="#c80c2a" stroke-width="3.2"/><circle r="3.70" fill="none" stroke="#480010" stroke-width="0.8" opacity="0.7"/></g><circle r="2.1" fill="#fff" opacity="0.85"/></g><g transform="translate(1050.25,281.25)"><circle r="17.50" fill="none" stroke="#fff" stroke-width="4.5" opacity="0.2"/><g opacity="0.50"><circle r="17.50" fill="none" stroke="#a89c10" stroke-width="2.5"/><circle r="17.50" fill="none" stroke="#343000" stroke-width="0.8" opacity="0.7"/></g><circle r="12.90" fill="none" stroke="#fff" stroke-width="4.5" opacity="0.2"/><g opacity="0.57"><circle r="12.90" fill="none" stroke="#a89c10" stroke-width="2.5"/><circle r="12.90" fill="none" stroke="#343000" stroke-width="0.8" opacity="0.7"/></g><circle r="8.30" fill="none" stroke="#fff" stroke-width="4.5" opacity="0.2"/><g opacity="0.68"><circle r="8.30" fill="none" stroke="#a89c10" stroke-width="2.5"/><circle r="8.30" fill="none" stroke="#343000" stroke-width="0.8" opacity="0.7"/></g><circle r="3.70" fill="none" stroke="#fff" stroke-width="5.2" opacity="0.2"/><g opacity="0.95"><circle r="3.70" fill="none" stroke="#a89c10" stroke-width="3.2"/><circle r="3.70" fill="none" stroke="#343000" stroke-width="0.8" opacity="0.7"/></g><circle r="2.1" fill="#fff" opacity="0.85"/></g><g transform="translate(1021.3,319.9)"><circle r="17.50" fill="none" stroke="#fff" stroke-width="4.5" opacity="0.2"/><g opacity="0.50"><circle r="17.50" fill="none" stroke="#c80c2a" stroke-width="2.5"/><circle r="17.50" fill="none" stroke="#480010" stroke-width="0.8" opacity="0.7"/></g><circle r="12.90" fill="none" stroke="#fff" stroke-width="4.5" opacity="0.2"/><g opacity="0.57"><circle r="12.90" fill="none" stroke="#c80c2a" stroke-width="2.5"/><circle r="12.90" fill="none" stroke="#480010" stroke-width="0.8" opacity="0.7"/></g><circle r="8.30" fill="none" stroke="#fff" stroke-width="4.5" opacity="0.2"/><g opacity="0.68"><circle r="8.30" fill="none" stroke="#c80c2a" stroke-width="2.5"/><circle r="8.30" fill="none" stroke="#480010" stroke-width="0.8" opacity="0.7"/></g><circle r="3.70" fill="none" stroke="#fff" stroke-width="5.2" opacity="0.2"/><g opacity="0.95"><circle r="3.70" fill="none" stroke="#c80c2a" stroke-width="3.2"/><circle r="3.70" fill="none" stroke="#480010" stroke-width="0.8" opacity="0.7"/></g><circle r="2.1" fill="#fff" opacity="0.85"/></g><g transform="translate(1054.4,321)"><circle r="17.50" fill="none" stroke="#fff" stroke-width="4.5" opacity="0.2"/><g opacity="0.50"><circle r="17.50" fill="none" stroke="#d03c14" stroke-width="2.5"/><circle r="17.50" fill="none" stroke="#482008" stroke-width="0.8" opacity="0.7"/></g><circle r="12.90" fill="none" stroke="#fff" stroke-width="4.5" opacity="0.2"/><g opacity="0.57"><circle r="12.90" fill="none" stroke="#d03c14" stroke-width="2.5"/><circle r="12.90" fill="none" stroke="#482008" stroke-width="0.8" opacity="0.7"/></g><circle r="8.30" fill="none" stroke="#fff" stroke-width="4.5" opacity="0.2"/><g opacity="0.68"><circle r="8.30" fill="none" stroke="#d03c14" stroke-width="2.5"/><circle r="8.30" fill="none" stroke="#482008" stroke-width="0.8" opacity="0.7"/></g><circle r="3.70" fill="none" stroke="#fff" stroke-width="5.2" opacity="0.2"/><g opacity="0.95"><circle r="3.70" fill="none" stroke="#d03c14" stroke-width="3.2"/><circle r="3.70" fill="none" stroke="#482008" stroke-width="0.8" opacity="0.7"/></g><circle r="2.1" fill="#fff" opacity="0.85"/></g><g transform="translate(1099.1,334.4)"><circle r="17.50" fill="none" stroke="#fff" stroke-width="4.5" opacity="0.2"/><g opacity="0.50"><circle r="17.50" fill="none" stroke="#c80c2a" stroke-width="2.5"/><circle r="17.50" fill="none" stroke="#480010" stroke-width="0.8" opacity="0.7"/></g><circle r="12.90" fill="none" stroke="#fff" stroke-width="4.5" opacity="0.2"/><g opacity="0.57"><circle r="12.90" fill="none" stroke="#c80c2a" stroke-width="2.5"/><circle r="12.90" fill="none" stroke="#480010" stroke-width="0.8" opacity="0.7"/></g><circle r="8.30" fill="none" stroke="#fff" stroke-width="4.5" opacity="0.2"/><g opacity="0.68"><circle r="8.30" fill="none" stroke="#c80c2a" stroke-width="2.5"/><circle r="8.30" fill="none" stroke="#480010" stroke-width="0.8" opacity="0.7"/></g><circle r="3.70" fill="none" stroke="#fff" stroke-width="5.2" opacity="0.2"/><g opacity="0.95"><circle r="3.70" fill="none" stroke="#c80c2a" stroke-width="3.2"/><circle r="3.70" fill="none" stroke="#480010" stroke-width="0.8" opacity="0.7"/></g><circle r="2.1" fill="#fff" opacity="0.85"/></g><g transform="translate(1063.4,334.8)"><circle r="17.50" fill="none" stroke="#fff" stroke-width="4.5" opacity="0.2"/><g opacity="0.50"><circle r="17.50" fill="none" stroke="#c80c2a" stroke-width="2.5"/><circle r="17.50" fill="none" stroke="#480010" stroke-width="0.8" opacity="0.7"/></g><circle r="12.90" fill="none" stroke="#fff" stroke-width="4.5" opacity="0.2"/><g opacity="0.57"><circle r="12.90" fill="none" stroke="#c80c2a" stroke-width="2.5"/><circle r="12.90" fill="none" stroke="#480010" stroke-width="0.8" opacity="0.7"/></g><circle r="8.30" fill="none" stroke="#fff" stroke-width="4.5" opacity="0.2"/><g opacity="0.68"><circle r="8.30" fill="none" stroke="#c80c2a" stroke-width="2.5"/><circle r="8.30" fill="none" stroke="#480010" stroke-width="0.8" opacity="0.7"/></g><circle r="3.70" fill="none" stroke="#fff" stroke-width="5.2" opacity="0.2"/><g opacity="0.95"><circle r="3.70" fill="none" stroke="#c80c2a" stroke-width="3.2"/><circle r="3.70" fill="none" stroke="#480010" stroke-width="0.8" opacity="0.7"/></g><circle r="2.1" fill="#fff" opacity="0.85"/></g><g transform="translate(1117,342.4)"><circle r="17.50" fill="none" stroke="#fff" stroke-width="4.5" opacity="0.2"/><g opacity="0.50"><circle r="17.50" fill="none" stroke="#1414c0" stroke-width="2.5"/><circle r="17.50" fill="none" stroke="#060648" stroke-width="0.8" opacity="0.7"/></g><circle r="12.90" fill="none" stroke="#fff" stroke-width="4.5" opacity="0.2"/><g opacity="0.57"><circle r="12.90" fill="none" stroke="#1414c0" stroke-width="2.5"/><circle r="12.90" fill="none" stroke="#060648" stroke-width="0.8" opacity="0.7"/></g><circle r="8.30" fill="none" stroke="#fff" stroke-width="4.5" opacity="0.2"/><g opacity="0.68"><circle r="8.30" fill="none" stroke="#1414c0" stroke-width="2.5"/><circle r="8.30" fill="none" stroke="#060648" stroke-width="0.8" opacity="0.7"/></g><circle r="3.70" fill="none" stroke="#fff" stroke-width="5.2" opacity="0.2"/><g opacity="0.95"><circle r="3.70" fill="none" stroke="#1414c0" stroke-width="3.2"/><circle r="3.70" fill="none" stroke="#060648" stroke-width="0.8" opacity="0.7"/></g><circle r="2.1" fill="#fff" opacity="0.85"/></g><g transform="translate(1067.1,348.1)"><circle r="17.50" fill="none" stroke="#fff" stroke-width="4.5" opacity="0.2"/><g opacity="0.50"><circle r="17.50" fill="none" stroke="#1414c0" stroke-width="2.5"/><circle r="17.50" fill="none" stroke="#060648" stroke-width="0.8" opacity="0.7"/></g><circle r="12.90" fill="none" stroke="#fff" stroke-width="4.5" opacity="0.2"/><g opacity="0.57"><circle r="12.90" fill="none" stroke="#1414c0" stroke-width="2.5"/><circle r="12.90" fill="none" stroke="#060648" stroke-width="0.8" opacity="0.7"/></g><circle r="8.30" fill="none" stroke="#fff" stroke-width="4.5" opacity="0.2"/><g opacity="0.68"><circle r="8.30" fill="none" stroke="#1414c0" stroke-width="2.5"/><circle r="8.30" fill="none" stroke="#060648" stroke-width="0.8" opacity="0.7"/></g><circle r="3.70" fill="none" stroke="#fff" stroke-width="5.2" opacity="0.2"/><g opacity="0.95"><circle r="3.70" fill="none" stroke="#1414c0" stroke-width="3.2"/><circle r="3.70" fill="none" stroke="#060648" stroke-width="0.8" opacity="0.7"/></g><circle r="2.1" fill="#fff" opacity="0.85"/></g><g transform="translate(1045.1,357.3)"><circle r="23.70" fill="none" stroke="#fff" stroke-width="4.5" opacity="0.2"/><g opacity="0.44"><circle r="23.70" fill="none" stroke="#1414c0" stroke-width="2.5"/><circle r="23.70" fill="none" stroke="#060648" stroke-width="0.8" opacity="0.7"/></g><circle r="18.70" fill="none" stroke="#fff" stroke-width="4.5" opacity="0.2"/><g opacity="0.50"><circle r="18.70" fill="none" stroke="#1414c0" stroke-width="2.5"/><circle r="18.70" fill="none" stroke="#060648" stroke-width="0.8" opacity="0.7"/></g><circle r="13.70" fill="none" stroke="#fff" stroke-width="4.5" opacity="0.2"/><g opacity="0.57"><circle r="13.70" fill="none" stroke="#1414c0" stroke-width="2.5"/><circle r="13.70" fill="none" stroke="#060648" stroke-width="0.8" opacity="0.7"/></g><circle r="8.70" fill="none" stroke="#fff" stroke-width="4.5" opacity="0.2"/><g opacity="0.68"><circle r="8.70" fill="none" stroke="#1414c0" stroke-width="2.5"/><circle r="8.70" fill="none" stroke="#060648" stroke-width="0.8" opacity="0.7"/></g><circle r="3.70" fill="none" stroke="#fff" stroke-width="5.2" opacity="0.2"/><g opacity="0.95"><circle r="3.70" fill="none" stroke="#1414c0" stroke-width="3.2"/><circle r="3.70" fill="none" stroke="#060648" stroke-width="0.8" opacity="0.7"/></g><circle r="2.1" fill="#fff" opacity="0.85"/></g><g transform="translate(1023.4,369.1)"><circle r="17.50" fill="none" stroke="#fff" stroke-width="4.5" opacity="0.2"/><g opacity="0.50"><circle r="17.50" fill="none" stroke="#c80c2a" stroke-width="2.5"/><circle r="17.50" fill="none" stroke="#480010" stroke-width="0.8" opacity="0.7"/></g><circle r="12.90" fill="none" stroke="#fff" stroke-width="4.5" opacity="0.2"/><g opacity="0.57"><circle r="12.90" fill="none" stroke="#c80c2a" stroke-width="2.5"/><circle r="12.90" fill="none" stroke="#480010" stroke-width="0.8" opacity="0.7"/></g><circle r="8.30" fill="none" stroke="#fff" stroke-width="4.5" opacity="0.2"/><g opacity="0.68"><circle r="8.30" fill="none" stroke="#c80c2a" stroke-width="2.5"/><circle r="8.30" fill="none" stroke="#480010" stroke-width="0.8" opacity="0.7"/></g><circle r="3.70" fill="none" stroke="#fff" stroke-width="5.2" opacity="0.2"/><g opacity="0.95"><circle r="3.70" fill="none" stroke="#c80c2a" stroke-width="3.2"/><circle r="3.70" fill="none" stroke="#480010" stroke-width="0.8" opacity="0.7"/></g><circle r="2.1" fill="#fff" opacity="0.85"/></g><g transform="translate(1193.2,379)"><circle r="17.50" fill="none" stroke="#fff" stroke-width="4.5" opacity="0.2"/><g opacity="0.50"><circle r="17.50" fill="none" stroke="#c80c2a" stroke-width="2.5"/><circle r="17.50" fill="none" stroke="#480010" stroke-width="0.8" opacity="0.7"/></g><circle r="12.90" fill="none" stroke="#fff" stroke-width="4.5" opacity="0.2"/><g opacity="0.57"><circle r="12.90" fill="none" stroke="#c80c2a" stroke-width="2.5"/><circle r="12.90" fill="none" stroke="#480010" stroke-width="0.8" opacity="0.7"/></g><circle r="8.30" fill="none" stroke="#fff" stroke-width="4.5" opacity="0.2"/><g opacity="0.68"><circle r="8.30" fill="none" stroke="#c80c2a" stroke-width="2.5"/><circle r="8.30" fill="none" stroke="#480010" stroke-width="0.8" opacity="0.7"/></g><circle r="3.70" fill="none" stroke="#fff" stroke-width="5.2" opacity="0.2"/><g opacity="0.95"><circle r="3.70" fill="none" stroke="#c80c2a" stroke-width="3.2"/><circle r="3.70" fill="none" stroke="#480010" stroke-width="0.8" opacity="0.7"/></g><circle r="2.1" fill="#fff" opacity="0.85"/></g><g transform="translate(1194.5,394.3)"><circle r="17.50" fill="none" stroke="#fff" stroke-width="4.5" opacity="0.2"/><g opacity="0.50"><circle r="17.50" fill="none" stroke="#1ca41c" stroke-width="2.5"/><circle r="17.50" fill="none" stroke="#063006" stroke-width="0.8" opacity="0.7"/></g><circle r="12.90" fill="none" stroke="#fff" stroke-width="4.5" opacity="0.2"/><g opacity="0.57"><circle r="12.90" fill="none" stroke="#1ca41c" stroke-width="2.5"/><circle r="12.90" fill="none" stroke="#063006" stroke-width="0.8" opacity="0.7"/></g><circle r="8.30" fill="none" stroke="#fff" stroke-width="4.5" opacity="0.2"/><g opacity="0.68"><circle r="8.30" fill="none" stroke="#1ca41c" stroke-width="2.5"/><circle r="8.30" fill="none" stroke="#063006" stroke-width="0.8" opacity="0.7"/></g><circle r="3.70" fill="none" stroke="#fff" stroke-width="5.2" opacity="0.2"/><g opacity="0.95"><circle r="3.70" fill="none" stroke="#1ca41c" stroke-width="3.2"/><circle r="3.70" fill="none" stroke="#063006" stroke-width="0.8" opacity="0.7"/></g><circle r="2.1" fill="#fff" opacity="0.85"/></g><g transform="translate(1223.2,454.4)"><circle r="23.70" fill="none" stroke="#fff" stroke-width="4.5" opacity="0.2"/><g opacity="0.44"><circle r="23.70" fill="none" stroke="#c80c2a" stroke-width="2.5"/><circle r="23.70" fill="none" stroke="#480010" stroke-width="0.8" opacity="0.7"/></g><circle r="18.70" fill="none" stroke="#fff" stroke-width="4.5" opacity="0.2"/><g opacity="0.50"><circle r="18.70" fill="none" stroke="#c80c2a" stroke-width="2.5"/><circle r="18.70" fill="none" stroke="#480010" stroke-width="0.8" opacity="0.7"/></g><circle r="13.70" fill="none" stroke="#fff" stroke-width="4.5" opacity="0.2"/><g opacity="0.57"><circle r="13.70" fill="none" stroke="#c80c2a" stroke-width="2.5"/><circle r="13.70" fill="none" stroke="#480010" stroke-width="0.8" opacity="0.7"/></g><circle r="8.70" fill="none" stroke="#fff" stroke-width="4.5" opacity="0.2"/><g opacity="0.68"><circle r="8.70" fill="none" stroke="#c80c2a" stroke-width="2.5"/><circle r="8.70" fill="none" stroke="#480010" stroke-width="0.8" opacity="0.7"/></g><circle r="3.70" fill="none" stroke="#fff" stroke-width="5.2" opacity="0.2"/><g opacity="0.95"><circle r="3.70" fill="none" stroke="#c80c2a" stroke-width="3.2"/><circle r="3.70" fill="none" stroke="#480010" stroke-width="0.8" opacity="0.7"/></g><circle r="2.1" fill="#fff" opacity="0.85"/></g><g transform="translate(1172.1,492.4)"><circle r="13.70" fill="none" stroke="#fff" stroke-width="4.5" opacity="0.2"/><g opacity="0.57"><circle r="13.70" fill="none" stroke="#a89c10" stroke-width="2.5"/><circle r="13.70" fill="none" stroke="#343000" stroke-width="0.8" opacity="0.7"/></g><circle r="8.70" fill="none" stroke="#fff" stroke-width="4.5" opacity="0.2"/><g opacity="0.68"><circle r="8.70" fill="none" stroke="#a89c10" stroke-width="2.5"/><circle r="8.70" fill="none" stroke="#343000" stroke-width="0.8" opacity="0.7"/></g><circle r="3.70" fill="none" stroke="#fff" stroke-width="5.2" opacity="0.2"/><g opacity="0.95"><circle r="3.70" fill="none" stroke="#a89c10" stroke-width="3.2"/><circle r="3.70" fill="none" stroke="#343000" stroke-width="0.8" opacity="0.7"/></g><circle r="2.1" fill="#fff" opacity="0.85"/></g><g transform="translate(972.3,524.3)"><circle r="23.70" fill="none" stroke="#fff" stroke-width="4.5" opacity="0.2"/><g opacity="0.44"><circle r="23.70" fill="none" stroke="#c80c2a" stroke-width="2.5"/><circle r="23.70" fill="none" stroke="#480010" stroke-width="0.8" opacity="0.7"/></g><circle r="18.70" fill="none" stroke="#fff" stroke-width="4.5" opacity="0.2"/><g opacity="0.50"><circle r="18.70" fill="none" stroke="#c80c2a" stroke-width="2.5"/><circle r="18.70" fill="none" stroke="#480010" stroke-width="0.8" opacity="0.7"/></g><circle r="13.70" fill="none" stroke="#fff" stroke-width="4.5" opacity="0.2"/><g opacity="0.57"><circle r="13.70" fill="none" stroke="#c80c2a" stroke-width="2.5"/><circle r="13.70" fill="none" stroke="#480010" stroke-width="0.8" opacity="0.7"/></g><circle r="8.70" fill="none" stroke="#fff" stroke-width="4.5" opacity="0.2"/><g opacity="0.68"><circle r="8.70" fill="none" stroke="#c80c2a" stroke-width="2.5"/><circle r="8.70" fill="none" stroke="#480010" stroke-width="0.8" opacity="0.7"/></g><circle r="3.70" fill="none" stroke="#fff" stroke-width="5.2" opacity="0.2"/><g opacity="0.95"><circle r="3.70" fill="none" stroke="#c80c2a" stroke-width="3.2"/><circle r="3.70" fill="none" stroke="#480010" stroke-width="0.8" opacity="0.7"/></g><circle r="2.1" fill="#fff" opacity="0.85"/></g>
<g font-family="Liberation Sans, sans-serif" font-weight="bold" fill="#000">
<text x="7.6" y="29.05" font-size="28.3" textLength="234" lengthAdjust="spacingAndGlyphs">Earthquakes M3+</text>
<text x="7.6" y="57.4" font-size="21.3" textLength="338" lengthAdjust="spacingAndGlyphs">updated: 20 Apr 2026 21:20 (UTC)</text>
<text x="1119.8" y="28.8" font-size="28.3" textLength="156.8" lengthAdjust="spacingAndGlyphs">20 Apr 2026</text>
</g>
<g font-family="Liberation Sans, sans-serif" fill="#000">
<text x="8.3" y="588.3" font-size="11" textLength="241" lengthAdjust="spacingAndGlyphs">Map base: Robinson projection of the world</text>
<text x="9.1" y="618.75" font-size="11" fill="#8a8a8a" textLength="202" lengthAdjust="spacingAndGlyphs">generated in 0.21ms 20 Apr 2026 21:20</text>
<text x="1159.8" y="642.7" font-size="11" textLength="42.7" lengthAdjust="spacingAndGlyphs">shallow</text>
<text x="1229.7" y="640" font-size="11" textLength="24.3" lengthAdjust="spacingAndGlyphs">deep</text>
</g>
<g>
<path d="M898.75,623 L912.5,623 L926.9,635.25 L881.25,635.25Z" fill="#333"/>
<text x="896.2" y="619.9" font-family="Liberation Sans, sans-serif" font-weight="bold" font-size="20.5" fill="#333" stroke="#333" stroke-width="0.9" textLength="110" lengthAdjust="spacingAndGlyphs">VOLCANO</text>
<text x="931.5" y="635.5" font-family="Liberation Sans, sans-serif" font-weight="bold" font-size="17.6" fill="#c8202a" stroke="#c8202a" stroke-width="0.4" textLength="97" lengthAdjust="spacingAndGlyphs">DISCOVERY</text>
</g>
<g transform="translate(1175.3,620.2)"><circle r="8.3" fill="none" stroke="#cc1420" stroke-width="2.3"/><circle r="4.4" fill="none" stroke="#cc1420" stroke-width="2.3"/></g><g transform="translate(1190.3,620.2)"><circle r="8.3" fill="none" stroke="#d8461c" stroke-width="2.3"/><circle r="4.4" fill="none" stroke="#d8461c" stroke-width="2.3"/></g><g transform="translate(1205.3,620.2)"><circle r="8.3" fill="none" stroke="#a89412" stroke-width="2.3"/><circle r="4.4" fill="none" stroke="#a89412" stroke-width="2.3"/></g><g transform="translate(1220.3,620.2)"><circle r="8.3" fill="none" stroke="#20a020" stroke-width="2.3"/><circle r="4.4" fill="none" stroke="#20a020" stroke-width="2.3"/></g><g transform="translate(1235.3,620.2)"><circle r="8.3" fill="none" stroke="#1818c8" stroke-width="2.3"/><circle r="4.4" fill="none" stroke="#1818c8" stroke-width="2.3"/></g><g transform="translate(1250.8,620.2)"><circle r="8.3" fill="none" stroke="#2c1a8c" stroke-width="2.3"/><circle r="4.4" fill="none" stroke="#2c1a8c" stroke-width="2.3"/></g>

</svg>
</body></html>
